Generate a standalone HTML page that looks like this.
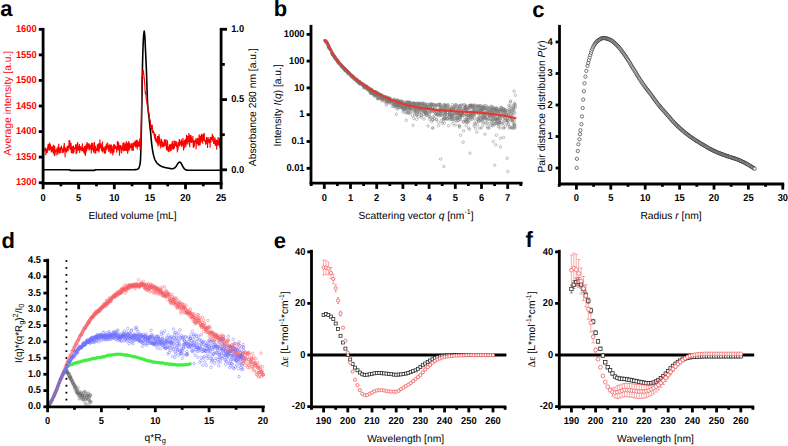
<!DOCTYPE html>
<html><head><meta charset="utf-8"><style>
html,body{margin:0;padding:0;background:#fff;}
svg{display:block;}
text{font-family:"Liberation Sans",sans-serif;text-rendering:geometricPrecision;}
</style></head><body>
<svg width="788" height="446" viewBox="0 0 788 446" font-family="Liberation Sans, sans-serif">
<rect width="788" height="446" fill="#fff"/>
<defs>
<marker id="cb" markerWidth="8" markerHeight="8" refX="0" refY="0" markerUnits="userSpaceOnUse" overflow="visible"><circle r="1.25" fill="none" stroke="#767676" stroke-width="0.45"/></marker>
<marker id="cc" markerWidth="8" markerHeight="8" refX="0" refY="0" markerUnits="userSpaceOnUse" overflow="visible"><circle r="1.65" fill="#fff" stroke="#111" stroke-width="0.55"/></marker>
<marker id="dr" markerWidth="8" markerHeight="8" refX="0" refY="0" markerUnits="userSpaceOnUse" overflow="visible"><circle r="1.3" fill="none" stroke="#f65c62" stroke-width="0.45"/></marker>
<marker id="db" markerWidth="8" markerHeight="8" refX="0" refY="0" markerUnits="userSpaceOnUse" overflow="visible"><circle r="1.3" fill="none" stroke="#6e6eff" stroke-width="0.45"/></marker>
<marker id="dg" markerWidth="8" markerHeight="8" refX="0" refY="0" markerUnits="userSpaceOnUse" overflow="visible"><circle r="1.05" fill="none" stroke="#3bec3b" stroke-width="0.45"/></marker>
<marker id="dk" markerWidth="8" markerHeight="8" refX="0" refY="0" markerUnits="userSpaceOnUse" overflow="visible"><circle r="1.25" fill="none" stroke="#6a6a6a" stroke-width="0.45"/></marker>
<marker id="er" markerWidth="8" markerHeight="8" refX="0" refY="0" markerUnits="userSpaceOnUse" overflow="visible"><circle r="1.6" fill="#fff" stroke="#f24d4d" stroke-width="0.75"/></marker>
<marker id="ek" markerWidth="8" markerHeight="8" refX="0" refY="0" markerUnits="userSpaceOnUse" overflow="visible"><rect x="-1.5" y="-1.5" width="3" height="3" fill="#fff" stroke="#222" stroke-width="0.75"/></marker>
<marker id="fr" markerWidth="8" markerHeight="8" refX="0" refY="0" markerUnits="userSpaceOnUse" overflow="visible"><circle r="1.9" fill="#fff" stroke="#f24d4d" stroke-width="0.7"/></marker>
<marker id="fk" markerWidth="8" markerHeight="8" refX="0" refY="0" markerUnits="userSpaceOnUse" overflow="visible"><rect x="-1.7" y="-1.7" width="3.4" height="3.4" fill="#fff" stroke="#222" stroke-width="0.75"/></marker>
</defs>
<text x="0.2" y="16.3" font-size="22" font-weight="bold" text-anchor="start" fill="#000" >a</text>
<text x="273.7" y="16.2" font-size="22" font-weight="bold" text-anchor="start" fill="#000" >b</text>
<text x="532.2" y="16.5" font-size="22" font-weight="bold" text-anchor="start" fill="#000" >c</text>
<text x="1.4" y="247.7" font-size="22" font-weight="bold" text-anchor="start" fill="#000" >d</text>
<text x="273.7" y="248.4" font-size="22" font-weight="bold" text-anchor="start" fill="#000" >e</text>
<text x="525.5" y="246.9" font-size="22" font-weight="bold" text-anchor="start" fill="#000" >f</text>
<polyline points="44.0,169.7 44.2,169.7 44.4,169.7 44.6,169.7 44.8,169.7 45.0,169.7 45.2,169.7 45.4,169.7 45.6,169.7 45.8,169.7 46.0,169.7 46.2,169.7 46.4,169.7 46.6,169.7 46.8,169.7 47.0,169.7 47.2,169.7 47.4,169.7 47.6,169.7 47.8,169.7 48.0,169.7 48.2,169.7 48.4,169.7 48.6,169.7 48.8,169.7 49.0,169.7 49.2,169.7 49.4,169.7 49.6,169.7 49.8,169.7 50.0,169.7 50.2,169.7 50.4,169.7 50.6,169.7 50.8,169.7 51.0,169.7 51.2,169.7 51.4,169.7 51.6,169.7 51.8,169.7 52.0,169.7 52.2,169.7 52.4,169.7 52.6,169.7 52.8,169.7 53.0,169.7 53.2,169.7 53.4,169.7 53.6,169.7 53.8,169.7 54.0,169.7 54.2,169.7 54.4,169.7 54.6,169.7 54.8,169.7 55.0,169.7 55.2,169.7 55.4,169.7 55.6,169.7 55.8,169.7 56.0,169.7 56.2,169.7 56.4,169.7 56.6,169.7 56.8,169.7 57.0,169.7 57.2,169.7 57.4,169.7 57.6,169.7 57.8,169.7 58.0,169.7 58.2,169.7 58.4,169.7 58.6,169.7 58.8,169.7 59.0,169.7 59.2,169.7 59.4,169.7 59.6,169.7 59.8,169.7 60.0,169.7 60.2,169.7 60.4,169.7 60.6,169.7 60.8,169.7 61.0,169.7 61.2,169.7 61.4,169.7 61.6,169.7 61.8,169.7 62.0,169.7 62.2,169.7 62.4,169.7 62.6,169.7 62.8,169.7 63.0,169.7 63.2,169.7 63.4,169.7 63.6,169.7 63.8,169.7 64.0,169.7 64.2,169.7 64.4,169.7 64.6,169.7 64.8,169.7 65.0,169.7 65.2,169.7 65.4,169.7 65.6,169.7 65.8,169.7 66.0,169.7 66.2,169.7 66.4,169.7 66.6,169.7 66.8,169.7 67.0,169.7 67.2,169.7 67.4,169.7 67.6,169.7 67.8,169.7 68.0,169.7 68.2,169.7 68.4,169.7 68.6,169.7 68.8,169.7 69.0,169.7 69.2,169.7 69.4,169.7 69.6,169.7 69.8,169.7 70.0,170.4 70.2,170.4 70.4,170.4 70.6,170.4 70.8,170.4 71.0,170.4 71.2,170.4 71.4,170.4 71.6,170.4 71.8,170.4 72.0,170.4 72.2,170.4 72.4,170.4 72.6,170.4 72.8,170.4 73.0,170.4 73.2,170.4 73.4,170.4 73.6,170.4 73.8,170.4 74.0,170.4 74.2,170.4 74.4,170.4 74.6,170.4 74.8,170.4 75.0,170.4 75.2,170.4 75.4,170.4 75.6,170.4 75.8,170.4 76.0,170.4 76.2,170.4 76.4,170.4 76.6,170.4 76.8,170.4 77.0,170.4 77.2,170.4 77.4,170.4 77.6,170.4 77.8,170.4 78.0,170.4 78.2,170.4 78.4,170.4 78.6,170.4 78.8,170.4 79.0,170.4 79.2,170.4 79.4,170.4 79.6,170.4 79.8,170.4 80.0,170.4 80.2,170.4 80.4,170.4 80.6,170.4 80.8,170.4 81.0,170.4 81.2,170.4 81.4,170.4 81.6,170.4 81.8,170.4 82.0,170.4 82.2,170.4 82.4,170.4 82.6,170.4 82.8,170.4 83.0,170.4 83.2,170.4 83.4,170.4 83.6,170.4 83.8,170.4 84.0,170.4 84.2,170.4 84.4,170.4 84.6,170.4 84.8,170.4 85.0,170.4 85.2,170.4 85.4,170.4 85.6,170.4 85.8,170.4 86.0,170.4 86.2,170.4 86.4,170.4 86.6,170.4 86.8,170.4 87.0,170.4 87.2,170.4 87.4,170.4 87.6,170.4 87.8,170.4 88.0,170.4 88.2,170.4 88.4,170.4 88.6,170.4 88.8,170.4 89.0,170.4 89.2,170.4 89.4,170.4 89.6,170.4 89.8,170.4 90.0,170.4 90.2,170.4 90.4,170.4 90.6,170.4 90.8,170.4 91.0,170.4 91.2,170.4 91.4,170.4 91.6,170.4 91.8,170.4 92.0,170.4 92.2,170.4 92.4,170.4 92.6,170.4 92.8,170.4 93.0,170.4 93.2,170.4 93.4,170.4 93.6,170.4 93.8,170.4 94.0,170.4 94.2,170.4 94.4,170.4 94.6,170.4 94.8,170.4 95.0,169.7 95.2,169.7 95.4,169.7 95.6,169.7 95.8,169.7 96.0,169.7 96.2,169.7 96.4,169.7 96.6,169.7 96.8,169.7 97.0,169.7 97.2,169.7 97.4,169.7 97.6,169.7 97.8,169.7 98.0,169.7 98.2,169.7 98.4,169.7 98.6,169.7 98.8,169.7 99.0,169.7 99.2,169.7 99.4,169.7 99.6,169.7 99.8,169.7 100.0,169.7 100.2,169.7 100.4,169.7 100.6,169.7 100.8,169.7 101.0,169.7 101.2,169.7 101.4,169.7 101.6,169.7 101.8,169.7 102.0,169.7 102.2,169.7 102.4,169.7 102.6,169.7 102.8,169.7 103.0,169.7 103.2,169.7 103.4,169.7 103.6,169.7 103.8,169.7 104.0,169.7 104.2,169.7 104.4,169.7 104.6,169.7 104.8,169.7 105.0,169.7 105.2,169.7 105.4,169.7 105.6,169.7 105.8,169.7 106.0,169.7 106.2,169.7 106.4,169.7 106.6,169.7 106.8,169.7 107.0,169.7 107.2,169.7 107.4,169.7 107.6,169.7 107.8,169.7 108.0,169.7 108.2,169.7 108.4,169.7 108.6,169.7 108.8,169.7 109.0,169.7 109.2,169.7 109.4,169.7 109.6,169.7 109.8,169.7 110.0,169.7 110.2,169.7 110.4,169.7 110.6,169.7 110.8,169.7 111.0,169.7 111.2,169.7 111.4,169.7 111.6,169.7 111.8,169.7 112.0,169.7 112.2,169.7 112.4,169.7 112.6,169.7 112.8,169.7 113.0,169.7 113.2,169.7 113.4,169.7 113.6,169.7 113.8,169.7 114.0,169.7 114.2,169.7 114.4,169.7 114.6,169.7 114.8,169.7 115.0,169.7 115.2,169.7 115.4,169.7 115.6,169.7 115.8,169.7 116.0,169.7 116.2,169.7 116.4,169.7 116.6,169.7 116.8,169.7 117.0,169.7 117.2,169.7 117.4,169.7 117.6,169.7 117.8,169.7 118.0,169.7 118.2,169.7 118.4,169.7 118.6,169.7 118.8,169.7 119.0,169.7 119.2,169.7 119.4,169.7 119.6,169.7 119.8,169.7 120.0,169.7 120.2,169.7 120.4,169.7 120.6,169.7 120.8,169.7 121.0,169.7 121.2,169.7 121.4,169.7 121.6,169.7 121.8,169.7 122.0,169.7 122.2,169.7 122.4,169.7 122.6,169.7 122.8,169.7 123.0,169.7 123.2,169.7 123.4,169.7 123.6,169.7 123.8,169.7 124.0,169.7 124.2,169.7 124.4,169.7 124.6,169.7 124.8,169.7 125.0,169.7 125.2,169.7 125.4,169.7 125.6,169.7 125.8,169.7 126.0,169.7 126.2,169.7 126.4,169.7 126.6,169.7 126.8,169.7 127.0,169.7 127.2,169.7 127.4,169.7 127.6,169.7 127.8,169.7 128.0,169.7 128.2,169.7 128.4,169.7 128.6,169.7 128.8,169.7 129.0,169.7 129.2,169.7 129.4,169.7 129.6,169.7 129.8,169.7 130.0,169.7 130.2,169.7 130.4,169.7 130.6,169.7 130.8,169.7 131.0,169.7 131.2,169.7 131.4,169.7 131.6,169.7 131.8,169.7 132.0,169.7 132.2,169.7 132.4,169.7 132.6,169.7 132.8,169.7 133.0,169.7 133.2,169.7 133.4,169.7 133.6,169.7 133.8,169.7 134.0,169.7 134.2,169.7 134.4,169.7 134.6,169.7 134.8,169.6 135.0,169.6 135.2,169.6 135.4,169.6 135.6,169.6 135.8,169.6 136.0,169.6 136.2,169.5 136.4,169.5 136.6,169.5 136.8,169.5 137.0,169.4 137.2,169.4 137.4,169.3 137.6,169.2 137.8,169.1 138.0,169.0 138.2,168.8 138.4,168.6 138.6,168.3 138.8,168.1 139.0,167.7 139.2,167.2 139.4,166.6 139.6,165.9 139.8,165.1 140.0,164.1 140.2,162.8 140.4,160.9 140.6,157.8 140.8,151.3 141.0,144.1 141.2,136.2 141.4,127.5 141.6,117.9 141.8,107.7 142.0,95.2 142.2,81.3 142.4,69.7 142.6,61.0 142.8,53.6 143.0,47.7 143.2,42.8 143.4,38.6 143.6,35.7 143.8,33.9 144.0,32.5 144.2,31.1 144.4,32.5 144.6,33.9 144.8,35.7 145.0,39.0 145.2,43.5 145.4,48.1 145.6,52.3 145.8,56.4 146.0,60.6 146.2,65.0 146.4,69.7 146.6,75.2 146.8,81.5 147.0,88.1 147.2,94.4 147.4,99.8 147.6,103.7 147.8,106.4 148.0,108.8 148.2,110.8 148.4,112.6 148.6,114.2 148.8,115.8 149.0,117.5 149.2,119.2 149.4,121.1 149.6,122.9 149.8,124.8 150.0,126.7 150.2,128.5 150.4,130.4 150.6,132.4 150.8,134.5 151.0,136.7 151.2,138.9 151.4,141.1 151.6,143.1 151.8,144.8 152.0,146.3 152.2,147.8 152.4,149.2 152.6,150.4 152.8,151.6 153.0,152.7 153.2,153.7 153.4,154.6 153.6,155.4 153.8,156.1 154.0,156.9 154.2,157.5 154.4,158.2 154.6,158.7 154.8,159.3 155.0,159.8 155.2,160.2 155.4,160.6 155.6,161.0 155.8,161.3 156.0,161.6 156.2,161.9 156.4,162.2 156.6,162.5 156.8,162.7 157.0,163.0 157.2,163.2 157.4,163.4 157.6,163.6 157.8,163.8 158.0,164.0 158.2,164.2 158.4,164.3 158.6,164.5 158.8,164.7 159.0,164.8 159.2,165.0 159.4,165.1 159.6,165.3 159.8,165.4 160.0,165.5 160.2,165.7 160.4,165.8 160.6,165.9 160.8,166.0 161.0,166.1 161.2,166.2 161.4,166.3 161.6,166.4 161.8,166.5 162.0,166.6 162.2,166.7 162.4,166.7 162.6,166.8 162.8,166.9 163.0,166.9 163.2,167.0 163.4,167.1 163.6,167.1 163.8,167.2 164.0,167.2 164.2,167.3 164.4,167.3 164.6,167.4 164.8,167.4 165.0,167.5 165.2,167.5 165.4,167.6 165.6,167.6 165.8,167.7 166.0,167.7 166.2,167.8 166.4,167.8 166.6,167.8 166.8,167.9 167.0,167.9 167.2,168.0 167.4,168.0 167.6,168.0 167.8,168.1 168.0,168.1 168.2,168.1 168.4,168.2 168.6,168.2 168.8,168.3 169.0,168.3 169.2,168.3 169.4,168.4 169.6,168.4 169.8,168.4 170.0,168.5 170.2,168.5 170.4,168.5 170.6,168.6 170.8,168.6 171.0,168.6 171.2,168.6 171.4,168.6 171.6,168.7 171.8,168.7 172.0,168.7 172.2,168.7 172.4,168.7 172.6,168.7 172.8,168.7 173.0,168.6 173.2,168.6 173.4,168.5 173.6,168.5 173.8,168.4 174.0,168.3 174.2,168.2 174.4,168.1 174.6,168.0 174.8,167.8 175.0,167.6 175.2,167.4 175.4,167.2 175.6,167.0 175.8,166.7 176.0,166.5 176.2,166.2 176.4,165.9 176.6,165.6 176.8,165.3 177.0,165.0 177.2,164.6 177.4,164.3 177.6,164.0 177.8,163.7 178.0,163.4 178.2,163.1 178.4,162.9 178.6,162.7 178.8,162.5 179.0,162.3 179.2,162.2 179.4,162.1 179.6,162.1 179.8,162.1 180.0,162.1 180.2,162.2 180.4,162.4 180.6,162.5 180.8,162.8 181.0,163.1 181.2,163.4 181.4,163.7 181.6,164.1 181.8,164.5 182.0,164.9 182.2,165.3 182.4,165.7 182.6,166.1 182.8,166.5 183.0,166.8 183.2,167.2 183.4,167.5 183.6,167.8 183.8,168.1 184.0,168.4 184.2,168.6 184.4,168.8 184.6,169.0 184.8,169.2 185.0,169.4 185.2,169.5 185.4,169.6 185.6,169.7 185.8,169.8 186.0,169.9 186.2,169.9 186.4,170.0 186.6,170.1 186.8,170.1 187.0,170.1 187.2,170.2 187.4,170.2 187.6,170.2 187.8,170.2 188.0,170.2 188.2,170.2 188.4,170.2 188.6,170.2 188.8,170.2 189.0,170.2 189.2,170.2 189.4,170.2 189.6,170.2 189.8,170.2 190.0,170.2 190.2,170.2 190.4,170.2 190.6,170.2 190.8,170.2 191.0,170.2 191.2,170.2 191.4,170.2 191.6,170.2 191.8,170.2 192.0,170.2 192.2,170.2 192.4,170.2 192.6,170.2 192.8,170.2 193.0,170.2 193.2,170.2 193.4,170.2 193.6,170.2 193.8,170.2 194.0,170.2 194.2,170.2 194.4,170.2 194.6,170.2 194.8,170.2 195.0,170.2 195.2,170.2 195.4,170.2 195.6,170.2 195.8,170.2 196.0,170.2 196.2,170.2 196.4,170.2 196.6,170.2 196.8,170.2 197.0,170.2 197.2,170.2 197.4,170.2 197.6,170.2 197.8,170.2 198.0,170.2 198.2,170.2 198.4,170.2 198.6,170.2 198.8,170.2 199.0,170.2 199.2,170.2 199.4,170.2 199.6,170.2 199.8,170.2 200.0,170.2 200.2,170.2 200.4,170.2 200.6,170.2 200.8,170.2 201.0,170.2 201.2,170.2 201.4,170.2 201.6,170.2 201.8,170.2 202.0,170.2 202.2,170.2 202.4,170.2 202.6,170.2 202.8,170.2 203.0,170.2 203.2,170.2 203.4,170.2 203.6,170.2 203.8,170.2 204.0,170.2 204.2,170.2 204.4,170.2 204.6,170.2 204.8,170.2 205.0,170.2 205.2,170.2 205.4,170.2 205.6,170.2 205.8,170.2 206.0,170.2 206.2,170.2 206.4,170.2 206.6,170.2 206.8,170.2 207.0,170.2 207.2,170.2 207.4,170.2 207.6,170.2 207.8,170.2 208.0,170.2 208.2,170.2 208.4,170.2 208.6,170.2 208.8,170.2 209.0,170.2 209.2,170.2 209.4,170.2 209.6,170.2 209.8,170.2 210.0,170.2 210.2,170.2 210.4,170.2 210.6,170.2 210.8,170.2 211.0,170.2 211.2,170.2 211.4,170.2 211.6,170.2 211.8,170.2 212.0,170.2 212.2,170.2 212.4,170.2 212.6,170.2 212.8,170.2 213.0,170.2 213.2,170.2 213.4,170.2 213.6,170.2 213.8,170.2 214.0,170.2 214.2,170.2 214.4,170.2 214.6,170.2 214.8,170.2 215.0,170.2 215.2,170.2 215.4,170.2 215.6,170.2 215.8,170.2 216.0,170.2 216.2,170.2 216.4,170.2 216.6,170.2 216.8,170.2 217.0,170.2 217.2,170.2 217.4,170.2 217.6,170.2 217.8,170.2 218.0,170.2 218.2,170.2 218.4,170.2 218.6,170.2 218.8,170.2 219.0,170.2 219.2,170.2 219.4,170.2 219.6,170.2 219.8,170.2 220.0,170.2 220.2,170.2 220.4,170.2 220.6,170.2 220.8,170.2 221.0,170.2 221.2,170.2 221.4,170.2 221.6,170.2 221.8,170.2" fill="none" stroke="#000" stroke-width="1.6" stroke-linejoin="round"/>
<polyline points="44.5,150.2 44.7,151.1 44.9,149.4 45.1,147.5 45.3,149.2 45.5,147.8 45.7,150.7 45.9,155.2 46.1,149.4 46.3,149.2 46.5,153.0 46.7,152.4 46.9,151.9 47.1,148.5 47.3,150.8 47.5,152.8 47.7,146.2 47.9,148.4 48.1,143.9 48.3,146.0 48.5,143.9 48.7,149.4 48.9,146.1 49.1,150.9 49.3,150.0 49.5,148.9 49.7,142.4 49.9,147.8 50.1,149.4 50.3,149.8 50.5,144.2 50.7,147.9 50.9,146.8 51.1,146.8 51.3,152.6 51.5,146.8 51.7,149.5 51.9,152.1 52.1,147.6 52.3,149.4 52.5,150.0 52.7,149.7 52.9,145.9 53.1,149.7 53.3,153.8 53.5,144.8 53.7,152.2 53.9,149.7 54.1,147.5 54.3,156.2 54.5,152.1 54.7,145.8 54.9,150.2 55.1,151.9 55.3,149.8 55.5,152.5 55.7,150.2 55.9,152.5 56.1,155.5 56.3,149.3 56.5,151.6 56.7,149.2 56.9,151.4 57.1,147.5 57.3,149.3 57.5,150.5 57.7,153.9 57.9,154.6 58.1,146.5 58.3,147.9 58.5,152.2 58.7,143.7 58.9,148.4 59.1,149.4 59.3,153.3 59.5,151.7 59.7,148.7 59.9,148.2 60.1,148.2 60.3,153.4 60.5,147.1 60.7,147.5 60.9,149.7 61.1,148.2 61.3,147.9 61.5,145.5 61.7,148.9 61.9,147.9 62.1,153.0 62.3,151.4 62.5,149.3 62.7,151.4 62.9,148.4 63.1,152.9 63.3,150.1 63.5,151.9 63.7,145.9 63.9,150.7 64.1,144.3 64.3,143.0 64.5,148.5 64.7,147.0 64.9,150.4 65.1,157.2 65.3,147.7 65.5,148.2 65.7,150.8 65.9,151.8 66.1,149.9 66.3,149.6 66.5,152.5 66.7,151.4 66.9,146.6 67.1,149.0 67.3,149.4 67.5,145.8 67.7,149.4 67.9,145.7 68.1,151.2 68.3,148.1 68.5,147.5 68.7,145.2 68.9,146.1 69.1,139.9 69.3,143.0 69.5,147.6 69.7,140.2 69.9,149.4 70.1,141.7 70.3,149.6 70.5,144.6 70.7,150.1 70.9,148.5 71.1,143.1 71.3,152.4 71.5,153.2 71.7,148.7 71.9,148.5 72.1,149.2 72.3,146.2 72.5,153.5 72.7,147.7 72.9,149.5 73.1,147.2 73.3,147.8 73.5,145.5 73.7,153.4 73.9,148.2 74.1,151.7 74.3,149.2 74.5,147.4 74.7,148.2 74.9,147.3 75.1,148.8 75.3,147.8 75.5,147.5 75.7,144.3 75.9,146.4 76.1,154.3 76.3,146.8 76.5,145.5 76.7,149.7 76.9,153.3 77.1,143.5 77.3,147.1 77.5,145.4 77.7,142.1 77.9,150.7 78.1,148.7 78.3,148.5 78.5,146.2 78.7,150.5 78.9,146.9 79.1,147.8 79.3,144.7 79.5,144.3 79.7,153.1 79.9,146.8 80.1,149.6 80.3,148.4 80.5,147.1 80.7,146.9 80.9,150.1 81.1,146.8 81.3,147.8 81.5,147.7 81.7,151.1 81.9,149.5 82.1,148.8 82.3,145.8 82.5,143.4 82.7,150.3 82.9,151.1 83.1,147.9 83.3,150.0 83.5,151.3 83.7,151.9 83.9,151.8 84.1,147.5 84.3,154.1 84.5,146.0 84.7,152.8 84.9,151.7 85.1,152.7 85.3,155.8 85.5,154.7 85.7,146.6 85.9,144.5 86.1,152.4 86.3,146.4 86.5,149.1 86.7,151.1 86.9,143.4 87.1,142.1 87.3,149.2 87.5,148.4 87.7,147.5 87.9,148.5 88.1,145.7 88.3,143.6 88.5,148.2 88.7,145.2 88.9,143.4 89.1,150.4 89.3,148.7 89.5,150.1 89.7,145.6 89.9,146.8 90.1,145.3 90.3,145.8 90.5,148.9 90.7,145.2 90.9,148.6 91.1,148.1 91.3,153.6 91.5,142.7 91.7,150.4 91.9,146.7 92.1,146.7 92.3,142.7 92.5,146.0 92.7,150.0 92.9,147.6 93.1,148.8 93.3,147.7 93.5,152.5 93.7,149.4 93.9,142.7 94.1,147.8 94.3,143.5 94.5,142.1 94.7,147.5 94.9,153.7 95.1,149.8 95.3,146.0 95.5,146.5 95.7,153.1 95.9,149.7 96.1,148.9 96.3,148.5 96.5,148.6 96.7,150.8 96.9,149.4 97.1,148.3 97.3,144.6 97.5,149.6 97.7,145.7 97.9,151.3 98.1,143.7 98.3,146.9 98.5,147.4 98.7,143.2 98.9,152.5 99.1,151.3 99.3,145.3 99.5,148.8 99.7,147.7 99.9,139.4 100.1,147.8 100.3,146.5 100.5,146.9 100.7,143.4 100.9,146.1 101.1,145.9 101.3,150.1 101.5,147.3 101.7,146.2 101.9,151.5 102.1,145.3 102.3,145.6 102.5,141.4 102.7,152.6 102.9,150.8 103.1,151.0 103.3,150.7 103.5,148.9 103.7,149.2 103.9,147.9 104.1,148.2 104.3,149.1 104.5,153.8 104.7,150.8 104.9,148.4 105.1,146.3 105.3,145.9 105.5,153.4 105.7,149.9 105.9,148.2 106.1,146.6 106.3,143.6 106.5,147.1 106.7,150.0 106.9,145.9 107.1,147.2 107.3,147.1 107.5,148.0 107.7,142.4 107.9,146.8 108.1,144.7 108.3,150.6 108.5,145.1 108.7,148.9 108.9,152.0 109.1,146.5 109.3,145.7 109.5,147.9 109.7,147.3 109.9,144.0 110.1,148.4 110.3,153.7 110.5,147.0 110.7,147.7 110.9,145.6 111.1,150.4 111.3,144.7 111.5,145.1 111.7,153.1 111.9,145.9 112.1,152.2 112.3,153.6 112.5,149.5 112.7,150.8 112.9,155.4 113.1,148.4 113.3,147.0 113.5,144.6 113.7,148.8 113.9,152.5 114.1,150.5 114.3,144.7 114.5,144.8 114.7,145.8 114.9,148.8 115.1,146.8 115.3,148.0 115.5,148.9 115.7,146.6 115.9,146.9 116.1,147.7 116.3,146.7 116.5,148.1 116.7,152.6 116.9,149.0 117.1,147.2 117.3,141.7 117.5,148.8 117.7,141.1 117.9,142.6 118.1,149.9 118.3,150.4 118.5,147.0 118.7,142.4 118.9,146.9 119.1,145.9 119.3,150.1 119.5,155.7 119.7,149.3 119.9,146.2 120.1,145.1 120.3,148.4 120.5,148.0 120.7,145.1 120.9,149.4 121.1,145.5 121.3,152.3 121.5,152.7 121.7,152.4 121.9,147.1 122.1,150.0 122.3,147.4 122.5,146.7 122.7,146.4 122.9,143.5 123.1,143.3 123.3,151.0 123.5,147.9 123.7,149.1 123.9,151.2 124.1,142.4 124.3,145.2 124.5,147.8 124.7,148.4 124.9,146.6 125.1,151.0 125.3,148.8 125.5,143.6 125.7,144.7 125.9,150.2 126.1,148.9 126.3,141.1 126.5,150.9 126.7,148.8 126.9,151.1 127.1,145.6 127.3,145.9 127.5,142.8 127.7,153.7 127.9,145.3 128.1,151.7 128.3,144.5 128.5,147.4 128.7,141.1 128.9,145.3 129.1,150.1 129.3,142.8 129.5,150.5 129.7,147.5 129.9,143.4 130.1,145.7 130.3,145.9 130.5,148.1 130.7,146.8 130.9,145.6 131.1,147.2 131.3,144.5 131.5,143.6 131.7,147.9 131.9,150.8 132.1,142.7 132.3,147.7 132.5,145.4 132.7,144.5 132.9,150.1 133.1,144.9 133.3,150.9 133.5,143.0 133.7,146.5 133.9,144.3 134.1,142.0 134.3,146.2 134.5,143.9 134.7,146.3 134.9,144.5 135.1,140.7 135.3,143.6 135.5,144.5 135.7,147.6 135.9,141.5 136.1,144.9 136.3,139.7 136.5,147.3 136.7,141.6 136.9,139.7 137.1,145.7 137.3,149.4 137.5,140.6 137.7,142.0 137.9,142.7 138.1,141.6 138.3,146.7 138.5,142.8 138.7,142.6 138.9,146.8 139.1,142.1 139.3,145.8 139.5,140.9 139.7,140.3 139.9,138.3 140.1,150.2 140.3,142.6 140.5,144.1 140.7,142.5 140.9,139.8 141.1,128.9 141.3,118.8 141.5,101.4 141.7,88.0 141.9,81.8 142.1,76.4 142.3,75.9 142.5,74.7 142.7,71.2 142.9,69.8 143.1,71.0 143.3,74.8 143.5,70.2 143.7,75.6 143.9,74.4 144.1,78.7 144.3,77.9 144.5,81.7 144.7,82.9 144.9,86.3 145.1,91.8 145.3,93.1 145.5,92.8 145.7,93.9 145.9,93.9 146.1,97.6 146.3,99.4 146.5,100.4 146.7,101.4 146.9,101.1 147.1,103.7 147.3,104.7 147.5,107.6 147.7,109.7 147.9,108.0 148.1,108.3 148.3,110.6 148.5,111.0 148.7,111.8 148.9,113.9 149.1,114.0 149.3,117.9 149.5,118.3 149.7,120.0 149.9,120.6 150.1,119.8 150.3,120.5 150.5,124.3 150.7,124.5 150.9,127.8 151.1,128.2 151.3,124.7 151.5,130.0 151.7,126.5 151.9,129.5 152.1,130.7 152.3,124.8 152.5,132.2 152.7,133.2 152.9,132.3 153.1,131.8 153.3,132.0 153.5,130.6 153.7,133.7 153.9,133.2 154.1,135.7 154.3,132.4 154.5,137.4 154.7,137.9 154.9,137.5 155.1,136.2 155.3,140.5 155.5,134.0 155.7,140.7 155.9,140.6 156.1,141.1 156.3,141.9 156.5,138.2 156.7,139.1 156.9,142.1 157.1,141.7 157.3,141.1 157.5,136.1 157.7,143.1 157.9,145.2 158.1,145.5 158.3,142.1 158.5,135.9 158.7,144.6 158.9,140.9 159.1,134.2 159.3,143.0 159.5,137.2 159.7,138.0 159.9,140.0 160.1,146.1 160.3,140.8 160.5,143.1 160.7,147.2 160.9,146.8 161.1,141.5 161.3,141.5 161.5,138.9 161.7,141.1 161.9,145.2 162.1,145.0 162.3,144.2 162.5,147.2 162.7,141.5 162.9,143.7 163.1,146.3 163.3,145.7 163.5,147.3 163.7,145.3 163.9,143.3 164.1,145.1 164.3,141.3 164.5,139.2 164.7,146.1 164.9,144.2 165.1,145.8 165.3,139.4 165.5,144.1 165.7,144.3 165.9,143.4 166.1,139.4 166.3,146.1 166.5,150.1 166.7,148.8 166.9,146.0 167.1,148.1 167.3,150.4 167.5,140.2 167.7,146.8 167.9,148.7 168.1,148.8 168.3,152.1 168.5,150.2 168.7,146.6 168.9,147.4 169.1,148.9 169.3,144.4 169.5,145.8 169.7,148.6 169.9,151.8 170.1,145.3 170.3,145.1 170.5,146.3 170.7,150.8 170.9,146.1 171.1,151.1 171.3,143.4 171.5,145.7 171.7,146.3 171.9,148.7 172.1,149.3 172.3,141.2 172.5,143.1 172.7,147.0 172.9,143.7 173.1,140.7 173.3,149.7 173.5,147.5 173.7,147.0 173.9,144.0 174.1,148.7 174.3,144.5 174.5,148.2 174.7,141.4 174.9,141.6 175.1,144.8 175.3,141.9 175.5,146.0 175.7,144.5 175.9,141.0 176.1,144.3 176.3,142.9 176.5,147.2 176.7,141.8 176.9,142.6 177.1,148.0 177.3,151.5 177.5,151.2 177.7,145.0 177.9,145.7 178.1,149.8 178.3,144.5 178.5,142.0 178.7,145.4 178.9,146.0 179.1,142.0 179.3,139.1 179.5,139.6 179.7,146.3 179.9,141.7 180.1,142.9 180.3,143.4 180.5,144.9 180.7,141.6 180.9,144.3 181.1,140.3 181.3,141.6 181.5,139.4 181.7,147.0 181.9,143.5 182.1,141.0 182.3,142.2 182.5,142.7 182.7,145.5 182.9,138.1 183.1,140.2 183.3,142.1 183.5,150.6 183.7,146.1 183.9,142.5 184.1,144.4 184.3,148.4 184.5,141.1 184.7,140.1 184.9,144.7 185.1,142.7 185.3,142.7 185.5,138.8 185.7,147.1 185.9,146.2 186.1,142.4 186.3,143.5 186.5,134.8 186.7,143.3 186.9,140.8 187.1,143.4 187.3,143.7 187.5,140.3 187.7,135.7 187.9,142.2 188.1,138.3 188.3,139.7 188.5,138.9 188.7,139.3 188.9,133.1 189.1,144.6 189.3,141.1 189.5,143.9 189.7,147.2 189.9,140.9 190.1,134.7 190.3,138.1 190.5,137.0 190.7,139.6 190.9,141.9 191.1,135.2 191.3,142.9 191.5,137.1 191.7,143.0 191.9,141.7 192.1,140.7 192.3,141.4 192.5,139.8 192.7,139.7 192.9,136.0 193.1,141.4 193.3,147.2 193.5,147.8 193.7,145.8 193.9,143.7 194.1,139.9 194.3,146.8 194.5,142.0 194.7,142.2 194.9,141.6 195.1,142.7 195.3,141.1 195.5,142.4 195.7,138.6 195.9,140.5 196.1,149.3 196.3,141.8 196.5,141.2 196.7,143.4 196.9,143.9 197.1,137.7 197.3,140.2 197.5,143.3 197.7,141.2 197.9,140.6 198.1,145.4 198.3,138.2 198.5,140.4 198.7,138.5 198.9,145.7 199.1,134.3 199.3,138.8 199.5,139.5 199.7,143.3 199.9,143.4 200.1,145.4 200.3,135.8 200.5,143.2 200.7,139.7 200.9,138.4 201.1,142.2 201.3,137.7 201.5,133.7 201.7,139.2 201.9,135.0 202.1,137.8 202.3,140.6 202.5,140.0 202.7,143.8 202.9,137.7 203.1,133.8 203.3,136.8 203.5,136.7 203.7,135.6 203.9,140.8 204.1,137.2 204.3,133.0 204.5,141.6 204.7,139.2 204.9,140.9 205.1,140.1 205.3,141.9 205.5,140.5 205.7,144.8 205.9,142.7 206.1,142.6 206.3,142.8 206.5,137.0 206.7,141.3 206.9,141.5 207.1,143.3 207.3,138.2 207.5,148.0 207.7,142.7 207.9,138.8 208.1,137.1 208.3,141.7 208.5,142.2 208.7,140.2 208.9,142.0 209.1,139.6 209.3,143.3 209.5,138.7 209.7,141.0 209.9,143.3 210.1,147.8 210.3,136.9 210.5,139.1 210.7,137.5 210.9,142.7 211.1,136.7 211.3,138.9 211.5,140.0 211.7,136.8 211.9,137.9 212.1,139.3 212.3,133.8 212.5,136.0 212.7,139.0 212.9,141.6 213.1,140.8 213.3,135.7 213.5,139.3 213.7,144.0 213.9,143.3 214.1,141.6 214.3,139.0 214.5,143.9 214.7,140.1 214.9,137.4 215.1,138.5 215.3,146.0 215.5,142.0 215.7,145.8 215.9,140.3 216.1,144.3 216.3,139.7 216.5,141.9 216.7,149.8 216.9,144.2 217.1,140.0 217.3,141.4 217.5,142.8 217.7,145.5 217.9,140.6 218.1,137.0 218.3,141.1 218.5,142.2 218.7,141.7 218.9,145.7 219.1,142.6 219.3,144.3 219.5,137.9 219.7,143.7 219.9,148.0 220.1,143.9 220.3,142.0 220.5,142.1 220.7,147.4 220.9,138.2 221.1,141.0 221.3,142.8" fill="none" stroke="#ff0000" stroke-width="1.1"/>
<line x1="43.1" y1="27.9" x2="43.1" y2="184.6" stroke="#000" stroke-width="2.8" />
<line x1="221.1" y1="27.9" x2="221.1" y2="184.6" stroke="#000" stroke-width="2.8" />
<line x1="41.8" y1="183.3" x2="222.4" y2="183.3" stroke="#000" stroke-width="2.8" />
<line x1="38.8" y1="182.7" x2="43.1" y2="182.7" stroke="#000" stroke-width="2.8" />
<text transform="translate(36.6 185.4) scale(0.93 1)" font-size="10" font-weight="bold" text-anchor="end" fill="#ff0000" >1300</text>
<line x1="38.8" y1="157.1" x2="43.1" y2="157.1" stroke="#000" stroke-width="2.8" />
<text transform="translate(36.6 159.8) scale(0.93 1)" font-size="10" font-weight="bold" text-anchor="end" fill="#ff0000" >1350</text>
<line x1="38.8" y1="131.6" x2="43.1" y2="131.6" stroke="#000" stroke-width="2.8" />
<text transform="translate(36.6 134.3) scale(0.93 1)" font-size="10" font-weight="bold" text-anchor="end" fill="#ff0000" >1400</text>
<line x1="38.8" y1="106" x2="43.1" y2="106" stroke="#000" stroke-width="2.8" />
<text transform="translate(36.6 108.7) scale(0.93 1)" font-size="10" font-weight="bold" text-anchor="end" fill="#ff0000" >1450</text>
<line x1="38.8" y1="80.4" x2="43.1" y2="80.4" stroke="#000" stroke-width="2.8" />
<text transform="translate(36.6 83.1) scale(0.93 1)" font-size="10" font-weight="bold" text-anchor="end" fill="#ff0000" >1500</text>
<line x1="38.8" y1="54.9" x2="43.1" y2="54.9" stroke="#000" stroke-width="2.8" />
<text transform="translate(36.6 57.6) scale(0.93 1)" font-size="10" font-weight="bold" text-anchor="end" fill="#ff0000" >1550</text>
<line x1="38.8" y1="29.3" x2="43.1" y2="29.3" stroke="#000" stroke-width="2.8" />
<text transform="translate(36.6 32) scale(0.93 1)" font-size="10" font-weight="bold" text-anchor="end" fill="#ff0000" >1600</text>
<line x1="221.1" y1="169.8" x2="227" y2="169.8" stroke="#000" stroke-width="2.8" />
<text transform="translate(231.2 172.5) scale(0.93 1)" font-size="10" font-weight="bold" text-anchor="start" fill="#000" >0.0</text>
<line x1="221.1" y1="99.6" x2="227" y2="99.6" stroke="#000" stroke-width="2.8" />
<text transform="translate(231.2 102.3) scale(0.93 1)" font-size="10" font-weight="bold" text-anchor="start" fill="#000" >0.5</text>
<line x1="221.1" y1="29.3" x2="227" y2="29.3" stroke="#000" stroke-width="2.8" />
<text transform="translate(231.2 32) scale(0.93 1)" font-size="10" font-weight="bold" text-anchor="start" fill="#000" >1.0</text>
<line x1="221.1" y1="134.7" x2="224.8" y2="134.7" stroke="#000" stroke-width="2.8" />
<line x1="221.1" y1="64.4" x2="224.8" y2="64.4" stroke="#000" stroke-width="2.8" />
<line x1="43.1" y1="183.3" x2="43.1" y2="189.2" stroke="#000" stroke-width="2.8" />
<text transform="translate(43.1 201) scale(0.93 1)" font-size="10" font-weight="bold" text-anchor="middle" fill="#000" >0</text>
<line x1="78.7" y1="183.3" x2="78.7" y2="189.2" stroke="#000" stroke-width="2.8" />
<text transform="translate(78.7 201) scale(0.93 1)" font-size="10" font-weight="bold" text-anchor="middle" fill="#000" >5</text>
<line x1="114.3" y1="183.3" x2="114.3" y2="189.2" stroke="#000" stroke-width="2.8" />
<text transform="translate(114.3 201) scale(0.93 1)" font-size="10" font-weight="bold" text-anchor="middle" fill="#000" >10</text>
<line x1="149.9" y1="183.3" x2="149.9" y2="189.2" stroke="#000" stroke-width="2.8" />
<text transform="translate(149.9 201) scale(0.93 1)" font-size="10" font-weight="bold" text-anchor="middle" fill="#000" >15</text>
<line x1="185.5" y1="183.3" x2="185.5" y2="189.2" stroke="#000" stroke-width="2.8" />
<text transform="translate(185.5 201) scale(0.93 1)" font-size="10" font-weight="bold" text-anchor="middle" fill="#000" >20</text>
<line x1="221.1" y1="183.3" x2="221.1" y2="189.2" stroke="#000" stroke-width="2.8" />
<text transform="translate(221.1 201) scale(0.93 1)" font-size="10" font-weight="bold" text-anchor="middle" fill="#000" >25</text>
<line x1="60.9" y1="183.3" x2="60.9" y2="186.3" stroke="#000" stroke-width="2.8" />
<line x1="96.5" y1="183.3" x2="96.5" y2="186.3" stroke="#000" stroke-width="2.8" />
<line x1="132.1" y1="183.3" x2="132.1" y2="186.3" stroke="#000" stroke-width="2.8" />
<line x1="167.7" y1="183.3" x2="167.7" y2="186.3" stroke="#000" stroke-width="2.8" />
<line x1="203.3" y1="183.3" x2="203.3" y2="186.3" stroke="#000" stroke-width="2.8" />
<text x="132.5" y="218.5" font-size="10.3" font-weight="normal" text-anchor="middle" fill="#000" >Eluted volume [mL]</text>
<text transform="translate(11.2 103.1) rotate(-90)" font-size="10.3" text-anchor="middle" fill="#ff0000">Average intensity [a.u.]</text>
<text transform="translate(255.8 107.2) rotate(-90)" font-size="10.3" text-anchor="middle" fill="#000">Absorbance 280 nm [a.u.]</text>
<polyline points="325.5,41.6 325.5,41.2 325.5,41.5 325.7,41.7 325.7,41.3 325.8,40.7 326.2,41.2 326.2,42.3 326.4,41.8 326.6,42.6 326.7,43.1 326.9,42.3 327.0,43.1 327.1,43.0 327.1,42.8 327.7,43.8 327.7,43.9 328.1,45.2 328.2,45.3 328.2,45.5 328.3,46.3 328.5,46.5 328.6,45.9 328.7,46.3 328.7,46.3 328.8,46.0 328.8,47.4 328.9,46.6 329.0,47.5 329.0,47.3 329.2,48.2 329.3,48.7 329.4,48.0 329.5,48.4 329.6,48.4 329.8,48.5 329.9,48.9 330.3,49.7 330.8,49.9 331.0,50.8 331.3,51.3 331.7,52.1 331.8,52.8 332.0,53.2 332.1,54.4 332.2,53.6 332.4,53.5 332.5,53.1 332.6,54.5 332.7,54.6 332.8,54.3 333.0,54.7 333.0,54.2 333.1,54.7 333.2,55.1 333.3,55.2 333.4,55.3 333.5,55.8 333.6,55.6 333.8,55.8 333.8,56.3 333.9,56.5 333.9,55.6 334.4,56.5 334.5,56.3 334.5,56.1 334.6,57.0 334.6,57.6 334.8,56.9 334.9,57.9 334.9,57.5 334.9,58.5 335.3,57.8 335.5,58.7 335.6,58.3 335.6,58.0 335.9,58.7 336.0,59.0 336.1,59.7 336.1,59.5 336.4,60.0 336.6,59.2 337.0,60.1 337.2,60.4 337.2,60.0 337.3,60.6 337.5,61.3 337.5,61.7 337.7,60.8 337.7,61.8 337.7,61.0 337.7,60.6 337.8,60.7 337.8,62.1 338.0,62.0 338.3,62.0 338.4,62.5 338.5,62.2 338.6,63.2 338.6,63.2 338.8,62.2 339.1,64.0 339.2,62.9 339.4,63.2 339.5,63.6 339.6,63.7 340.1,63.5 340.6,64.5 340.6,64.4 340.8,65.1 341.0,64.6 341.1,64.8 341.1,66.2 341.4,66.0 341.4,65.9 341.6,65.6 341.7,65.5 341.7,66.6 341.8,66.4 341.9,66.8 342.0,65.7 342.0,66.6 342.1,66.3 342.3,67.0 342.3,66.2 342.7,67.5 342.9,67.1 343.2,67.4 343.3,67.6 343.3,67.4 343.5,67.4 343.6,68.2 343.8,68.5 343.8,69.0 343.9,68.1 344.0,67.8 344.1,67.8 344.2,68.9 344.5,69.2 344.6,70.1 344.7,68.4 344.7,69.3 344.9,68.7 345.0,68.9 345.2,70.3 345.3,70.1 345.3,69.5 345.5,69.5 345.6,71.2 345.7,69.5 345.9,70.0 346.1,70.0 346.2,70.2 346.2,70.4 346.3,70.9 346.3,71.3 346.3,70.1 346.3,70.1 346.6,71.4 346.9,70.8 347.0,70.9 347.2,70.9 347.4,72.4 347.6,71.4 347.9,71.6 348.0,71.7 348.1,73.4 348.2,72.0 348.2,73.8 348.3,72.7 348.3,73.4 348.4,72.2 348.7,72.7 348.9,72.5 349.0,73.3 349.1,73.7 349.4,73.0 349.9,73.8 350.5,75.5 350.7,75.5 351.0,75.0 351.1,75.5 351.2,75.9 351.3,74.7 351.4,75.9 351.5,77.0 352.1,75.9 352.2,77.2 352.4,76.1 352.7,76.3 352.9,77.5 353.0,76.4 353.4,76.7 353.7,79.0 353.8,77.7 353.9,77.8 354.0,77.2 354.2,78.7 354.3,78.3 354.6,77.9 355.1,79.6 355.6,79.4 355.7,79.4 355.7,79.6 355.9,79.5 355.9,79.8 356.3,80.5 356.5,79.2 356.5,79.6 356.7,81.5 356.8,79.7 356.8,80.5 357.4,80.4 357.5,81.1 357.5,81.2 357.6,80.5 358.0,82.1 358.1,80.8 358.3,82.6 358.4,81.7 358.7,82.9 358.7,81.4 358.8,82.7 358.8,81.4 359.1,82.8 359.2,81.6 359.3,83.1 359.6,82.6 359.7,83.6 359.8,81.6 359.9,83.7 360.1,82.4 360.1,83.0 360.3,82.1 360.3,83.8 360.5,84.0 361.2,83.9 361.4,83.5 361.6,84.0 361.7,83.9 361.7,84.0 361.8,83.7 362.1,83.6 362.2,84.1 362.2,84.5 362.4,83.8 362.6,85.4 362.8,84.4 362.8,84.6 363.1,84.8 363.3,85.4 363.3,84.3 363.4,85.3 363.4,84.8 363.6,88.2 363.9,84.6 363.9,87.2 363.9,86.5 364.3,87.1 364.4,86.7 364.6,85.3 364.8,86.1 364.9,86.8 365.1,85.9 365.1,85.5 365.4,85.9 365.5,86.7 365.8,87.8 365.9,86.2 365.9,87.4 366.2,87.6 366.3,86.3 366.4,86.4 366.4,87.8 366.4,88.4 366.5,87.1 366.5,87.3 366.9,88.1 366.9,88.3 367.0,87.0 367.2,87.0 367.2,88.2 367.2,87.6 367.4,89.4 367.5,87.9 367.5,87.5 367.6,87.2 367.7,89.1 367.9,89.7 367.9,88.2 367.9,87.5 368.0,89.1 368.1,87.7 368.5,88.4 368.5,90.1 368.6,88.2 368.7,87.9 368.9,88.8 369.1,88.7 369.2,89.2 369.2,90.0 369.6,89.2 369.6,88.6 369.6,88.8 369.8,90.9 370.0,90.8 370.1,89.5 370.2,92.5 370.2,90.8 370.5,91.3 370.5,92.6 370.6,93.5 370.9,90.7 371.0,89.3 371.0,90.4 371.1,91.7 371.2,93.0 371.3,89.5 371.4,90.5 371.5,89.8 371.5,92.0 371.5,93.0 371.7,93.4 371.8,90.1 372.0,91.5 372.0,90.4 372.1,92.7 372.2,91.8 372.2,90.5 372.3,90.3 372.4,91.2 372.7,91.5 372.9,91.7 373.1,92.4 373.3,92.8 373.4,93.2 373.5,94.0 373.7,92.0 373.9,95.0 374.1,91.8 374.1,95.2 374.3,96.0 374.3,91.7 374.6,94.6 374.6,93.2 374.6,92.2 374.6,94.8 374.7,93.1 374.7,92.0 375.0,92.2 375.1,92.0 375.1,92.2 375.1,92.2 375.2,92.0 375.5,94.6 375.7,94.3 375.8,92.5 375.9,92.4 375.9,92.9 376.0,93.9 376.0,92.2 376.1,92.4 376.2,94.7 376.3,94.6 376.3,96.8 376.3,92.5 376.4,92.9 376.5,92.5 376.5,95.2 376.5,93.7 376.5,94.7 376.7,94.8 376.9,95.9 377.0,93.1 377.2,93.3 377.2,92.9 377.4,98.8 377.5,95.7 377.5,94.5 377.6,93.1 377.7,93.3 377.9,98.3 378.1,98.5 378.1,94.5 378.4,98.0 378.4,95.2 379.1,98.3 379.3,94.1 379.3,94.6 379.3,93.9 379.6,97.8 379.8,95.6 380.1,94.7 380.1,94.4 380.5,96.8 380.5,94.9 380.6,98.4 380.7,95.8 380.9,95.6 381.1,98.4 381.1,94.8 381.4,96.0 381.4,95.7 381.4,96.9 381.5,98.6 381.6,100.9 381.6,95.6 381.7,95.2 381.7,96.4 382.0,95.7 382.3,97.6 382.5,99.4 382.6,99.6 382.8,98.7 383.0,95.8 383.0,96.3 383.3,98.5 383.5,97.8 383.5,98.5 383.7,98.2 384.1,99.5 384.1,97.7 384.6,96.7 384.7,97.3 384.8,101.9 384.8,96.9 385.0,96.6 385.1,100.1 385.6,98.1 385.7,96.8 385.8,98.3 386.2,101.8 386.3,98.1 386.3,105.1 386.5,101.0 386.7,97.7 386.8,101.0 386.9,103.1 387.3,97.2 387.6,97.9 387.7,99.8 387.9,101.4 388.0,100.6 388.1,101.4 388.1,99.1 388.2,101.8 388.2,97.7 388.4,99.2 388.5,98.8 388.7,98.5 388.7,99.5 389.0,98.8 389.1,99.0 389.2,103.1 389.2,101.4 389.4,98.9 389.4,99.6 389.5,98.2 389.7,102.3 389.8,100.2 390.0,98.2 390.2,99.3 390.4,100.2 390.6,102.0 390.9,99.9 391.0,100.9 391.0,99.8 391.2,102.0 391.5,103.7 392.2,106.4 392.2,100.7 392.6,101.3 392.7,102.8 392.8,100.5 393.0,100.9 393.1,104.3 393.7,99.3 393.7,104.9 393.8,104.4 394.0,106.6 394.2,99.7 394.5,103.2 394.6,99.8 394.6,102.3 394.8,104.6 395.0,104.0 395.0,106.0 395.1,105.8 395.3,102.0 395.4,104.3 395.4,102.2 395.6,107.0 395.7,100.6 395.9,100.1 396.2,102.4 396.2,103.5 396.4,114.2 396.5,102.6 396.6,101.6 396.7,104.8 396.8,102.5 397.1,105.4 397.1,109.1 397.3,102.1 397.4,105.8 397.5,103.4 397.5,100.2 397.6,105.6 397.6,100.3 397.7,105.5 397.9,100.6 398.0,102.0 398.1,107.3 398.1,105.8 398.3,108.1 398.3,104.6 398.4,104.9 398.5,102.1 398.6,100.8 398.6,101.9 398.6,103.0 399.0,101.9 399.0,102.8 399.1,105.6 399.3,103.6 399.4,104.6 399.4,107.4 399.6,102.4 399.7,105.6 400.1,101.1 400.4,101.5 400.6,103.0 400.6,106.3 400.7,107.4 400.7,102.1 400.7,103.1 400.9,104.7 401.3,105.4 401.3,105.0 401.6,101.3 401.7,102.6 401.7,107.3 401.9,106.1 401.9,102.1 402.2,103.8 402.2,108.2 402.3,101.3 402.4,107.6 402.6,104.9 402.6,106.6 403.0,108.1 403.1,112.1 403.2,109.4 403.3,102.2 403.4,103.3 403.5,105.9 403.7,109.6 404.0,108.4 404.2,109.5 404.5,106.5 404.9,106.1 405.1,111.5 405.2,108.9 405.3,103.0 405.4,105.0 405.6,106.8 405.6,105.3 405.8,108.5 405.8,102.2 405.9,112.9 405.9,105.5 405.9,107.9 405.9,105.1 406.4,109.8 406.4,106.7 406.5,102.1 406.5,106.3 406.9,103.2 407.0,104.7 407.0,109.3 407.2,107.6 407.3,102.1 407.6,113.0 407.8,102.6 407.9,102.9 408.0,110.7 408.1,105.0 408.5,113.0 408.6,102.2 408.7,112.4 408.7,107.0 408.8,105.8 408.9,104.6 409.1,108.1 409.2,102.2 409.2,107.0 409.5,106.5 409.5,105.0 409.7,102.3 409.7,104.0 409.7,108.9 409.7,107.8 409.9,113.2 409.9,107.4 410.0,105.9 410.1,109.8 410.3,108.3 410.3,109.1 410.4,103.3 410.4,103.7 410.5,106.2 410.8,102.6 411.0,103.6 411.1,112.1 412.0,108.1 412.1,109.7 412.6,104.0 412.6,115.8 412.9,109.0 413.1,106.4 413.2,103.6 413.4,103.0 413.4,108.4 413.5,106.1 413.7,102.9 413.7,106.5 413.7,118.4 414.0,103.2 414.1,104.3 414.1,105.4 414.4,109.2 414.4,104.1 414.6,106.6 414.6,112.4 414.7,103.5 414.7,114.8 414.9,111.0 415.0,111.7 415.4,108.9 415.4,105.6 415.8,107.1 415.9,105.3 415.9,108.8 416.2,110.7 416.4,111.8 416.4,103.5 416.4,104.2 416.5,108.0 416.5,119.3 416.5,109.0 416.7,114.3 416.9,114.4 417.0,115.3 417.0,103.4 417.4,111.7 417.5,105.1 417.6,103.1 418.1,109.1 418.3,111.0 418.3,103.7 418.4,104.5 418.4,110.3 418.6,116.7 418.7,104.0 418.7,103.5 418.8,106.0 418.9,105.9 418.9,108.4 419.2,113.0 419.2,109.0 419.3,105.5 419.6,108.7 419.7,113.0 419.8,103.2 419.9,104.5 420.0,108.4 420.1,108.9 420.4,108.9 420.5,104.2 420.7,108.5 420.7,103.8 420.9,106.2 421.1,112.4 421.1,117.2 421.4,109.4 421.6,115.8 421.6,115.3 421.8,103.9 421.8,108.0 421.9,109.8 422.0,107.8 422.1,110.7 422.2,106.2 422.5,103.4 422.8,103.2 422.9,107.6 423.1,104.0 423.2,109.6 423.3,104.0 423.5,114.2 423.8,112.1 423.9,111.2 423.9,105.8 424.0,119.0 424.0,110.2 424.2,110.2 424.4,111.5 424.4,105.7 424.4,105.6 424.9,104.5 425.1,113.3 425.1,103.5 425.4,104.9 425.4,112.4 425.6,111.9 425.7,113.4 425.9,115.6 426.1,106.7 426.1,107.4 426.2,112.5 426.3,108.5 426.3,105.6 426.4,114.5 426.4,109.1 426.6,107.1 426.6,112.2 426.6,109.6 426.7,114.8 427.3,111.1 427.3,104.8 427.3,108.1 427.6,106.4 427.6,107.6 427.6,113.6 427.9,104.2 428.3,112.3 428.7,108.2 428.7,108.2 429.1,116.8 429.2,116.3 429.3,114.6 429.5,104.4 429.8,119.3 429.9,105.1 429.9,111.9 430.1,106.5 430.3,110.6 430.4,106.0 430.4,108.3 430.6,108.4 430.6,112.2 430.8,104.1 431.0,117.9 431.2,104.4 431.5,109.1 431.6,110.2 431.6,105.1 431.7,103.8 431.7,121.7 431.7,105.1 432.1,107.0 432.2,111.7 432.4,107.4 432.4,128.0 432.5,119.9 432.9,119.7 433.0,117.0 433.2,104.2 433.3,109.6 433.4,104.7 433.7,111.0 433.7,111.2 434.0,109.0 434.1,118.4 434.3,109.2 434.5,107.5 434.6,105.0 434.8,115.3 434.8,112.0 435.2,111.0 435.3,105.5 435.6,114.0 435.9,104.9 435.9,111.2 436.1,119.8 436.2,105.4 436.4,112.1 436.6,119.3 436.6,106.3 436.8,114.1 436.9,115.0 437.3,114.0 438.1,114.4 438.3,104.7 438.3,114.4 438.4,110.8 438.4,125.7 438.5,122.4 438.5,110.0 438.6,104.5 438.7,115.8 438.7,112.7 438.7,105.1 439.1,104.2 439.3,110.0 439.6,111.1 439.8,110.6 439.9,105.9 440.0,113.6 440.2,115.4 440.4,110.4 440.4,107.5 440.5,104.7 440.5,113.0 440.6,111.3 440.7,107.1 440.7,109.0 440.7,104.4 440.8,111.7 441.1,106.3 441.2,111.2 441.2,115.4 441.4,120.4 441.5,113.6 441.6,115.0 442.0,108.3 442.0,108.2 442.1,123.3 442.4,109.0 442.6,110.4 443.1,121.4 443.4,110.8 443.5,106.6 443.6,107.9 443.7,118.1 443.7,113.8 443.7,118.4 443.8,119.1 444.2,112.2 444.4,104.7 444.4,123.2 444.4,104.8 444.4,118.4 444.7,115.1 444.7,115.8 444.8,107.2 444.9,114.5 445.0,105.7 445.0,118.7 445.1,105.2 445.2,110.2 445.2,112.2 445.2,112.5 445.3,105.7 445.3,114.6 445.4,118.9 445.5,112.9 445.8,108.2 445.8,111.6 445.9,110.1 445.9,109.2 446.0,111.0 446.2,117.3 446.3,110.8 446.6,108.1 446.9,105.7 447.0,119.3 447.2,118.4 447.3,112.3 447.3,118.2 447.5,114.9 447.5,109.5 447.7,104.5 448.0,105.3 448.1,106.8 448.6,125.7 449.0,114.0 449.1,114.6 449.2,109.1 449.2,117.7 449.2,111.6 449.3,113.8 449.3,116.0 449.6,113.8 449.6,107.0 449.7,119.8 449.8,117.6 450.0,109.8 450.1,110.2 450.2,114.3 450.3,109.8 450.6,110.0 450.6,114.0 450.9,108.7 450.9,119.1 451.1,111.8 451.2,116.6 451.4,117.7 451.6,117.5 451.6,115.4 451.7,116.8 451.9,107.7 452.0,108.9 452.0,115.1 452.2,115.3 452.3,119.4 452.3,119.6 452.4,104.5 452.5,112.1 452.8,113.9 452.9,123.7 453.1,110.4 453.2,109.4 453.2,117.8 453.3,106.9 453.3,115.7 453.6,108.4 453.6,119.9 453.7,113.9 454.0,109.2 454.2,113.6 454.3,106.7 454.4,108.1 454.6,105.4 454.7,112.3 454.7,116.5 455.0,108.6 455.1,120.5 455.2,125.1 455.7,118.0 455.9,113.8 455.9,105.2 456.0,104.6 456.4,113.1 456.4,117.7 456.8,121.1 456.8,112.5 456.8,114.0 457.0,118.1 457.2,117.4 457.3,110.7 457.3,106.0 457.3,106.8 457.5,111.9 457.6,113.6 457.6,110.0 457.7,120.4 457.7,113.3 457.7,118.1 457.9,107.9 458.1,120.3 458.4,115.4 458.8,108.6 458.9,114.7 459.0,114.2 459.1,113.4 459.1,125.6 459.3,113.6 459.3,108.4 459.4,118.3 459.4,105.6 459.5,127.2 459.6,108.6 459.7,114.4 459.7,117.3 459.9,119.2 460.3,111.9 460.3,106.1 460.3,114.5 460.4,105.4 460.4,119.4 460.5,115.3 460.6,116.7 460.9,114.5 460.9,113.9 460.9,116.7 461.1,108.4 461.2,115.3 461.3,109.3 461.4,105.0 461.4,115.2 461.6,114.3 461.9,114.2 461.9,111.9 462.0,112.9 462.2,114.1 462.2,113.2 462.3,108.4 462.6,114.7 463.0,104.9 463.2,121.6 463.3,115.4 463.4,111.0 463.5,122.1 463.6,110.8 463.9,113.4 464.2,112.9 464.6,104.7 464.7,117.2 464.9,110.7 464.9,109.9 465.0,108.8 465.0,107.5 465.0,119.7 465.1,106.5 465.1,107.7 465.3,121.2 465.4,107.9 465.5,108.3 465.6,105.6 465.8,114.5 466.0,106.4 466.3,109.0 466.3,120.2 466.3,115.0 466.4,110.0 466.5,122.2 466.6,120.2 466.9,122.2 466.9,106.8 467.0,114.6 467.1,114.5 467.1,118.8 467.5,121.6 467.6,108.1 467.6,109.1 467.9,117.4 467.9,115.2 468.2,115.3 468.3,118.9 468.4,117.7 468.4,108.3 468.6,128.0 468.6,108.8 468.7,122.2 469.2,120.1 469.3,116.1 469.3,105.5 469.7,108.1 469.9,105.7 469.9,116.1 470.1,105.7 470.3,115.6 470.4,106.9 470.4,105.0 470.6,112.9 470.6,113.2 470.6,114.5 470.7,113.5 470.9,111.2 470.9,105.9 470.9,116.0 471.1,117.8 471.1,119.5 471.1,106.4 471.3,105.1 471.5,107.3 471.5,112.2 471.7,117.2 471.7,113.6 472.2,105.7 472.3,114.1 472.4,114.9 472.5,105.3 472.5,117.1 472.5,119.1 472.9,108.1 472.9,107.0 473.4,114.4 473.4,107.1 473.5,111.8 473.6,111.1 473.7,112.9 473.7,115.4 473.8,112.5 473.9,109.2 474.0,126.0 474.0,105.8 474.0,109.0 474.2,111.1 474.5,123.3 474.6,115.5 474.6,105.0 474.8,118.9 475.0,113.9 475.2,107.4 475.3,124.0 475.4,110.9 475.4,105.4 475.5,108.1 475.8,112.5 476.4,121.9 476.9,106.8 476.9,110.9 477.0,106.5 477.3,124.9 477.3,109.0 477.5,119.5 477.5,111.7 477.6,105.8 477.9,109.8 478.1,118.0 478.3,105.8 478.4,113.7 478.4,121.5 478.4,108.4 478.5,113.4 478.6,118.5 478.7,111.4 478.7,107.0 478.9,112.9 478.9,120.6 479.4,117.1 479.5,106.1 479.6,120.8 479.7,128.0 480.2,119.7 480.2,110.2 480.2,105.9 480.4,118.2 480.4,115.9 480.5,108.7 480.7,111.1 480.7,105.7 480.7,110.6 480.8,111.5 480.9,107.6 481.4,114.7 481.4,110.6 481.5,107.2 481.5,109.7 481.7,108.7 481.8,121.7 481.9,112.6 482.0,120.7 482.1,110.0 482.2,119.2 482.2,111.5 482.2,109.9 482.5,107.9 482.6,118.3 482.6,117.0 482.7,106.9 482.7,113.9 482.8,113.9 482.8,125.5 483.4,115.5 483.5,106.4 483.6,108.3 483.7,117.8 483.8,107.5 483.9,119.2 484.0,117.0 484.0,122.8 484.1,117.5 484.1,107.2 484.2,108.3 484.4,112.9 484.4,117.5 484.5,105.5 484.6,109.8 484.6,115.2 485.1,112.2 485.1,108.5 485.2,118.0 485.2,115.9 485.5,123.1 485.7,114.4 485.9,110.6 486.0,114.9 486.0,118.7 486.2,118.6 486.4,105.8 486.4,109.0 487.0,107.9 487.0,119.7 487.1,122.8 487.3,126.5 487.3,108.9 487.3,113.3 487.3,112.2 487.4,107.3 487.9,128.0 488.0,116.8 488.2,112.7 488.4,119.2 488.4,109.5 488.8,110.9 488.8,107.7 489.0,115.4 489.0,128.0 489.0,112.9 489.0,118.9 489.1,123.6 489.2,111.5 489.3,109.4 489.5,114.0 489.5,112.7 489.5,115.9 489.8,108.0 489.8,114.6 489.9,115.5 490.1,118.9 490.4,115.8 490.7,110.4 490.8,125.6 490.9,106.2 490.9,115.8 491.4,121.6 491.4,108.7 491.5,119.9 491.7,110.5 491.7,107.4 492.0,115.0 492.1,106.7 492.2,111.3 492.2,109.9 492.2,112.0 492.2,112.4 492.4,120.0 492.5,116.2 492.5,124.9 492.6,123.5 492.6,117.4 492.7,111.7 492.7,120.6 492.9,109.4 493.0,108.6 493.1,125.8 493.2,116.6 493.3,119.6 493.5,117.2 493.6,116.3 493.8,107.4 493.9,113.9 494.0,108.8 494.0,123.5 494.8,109.0 494.8,124.0 494.9,115.4 495.0,113.4 495.1,110.6 495.2,112.7 495.4,108.8 495.5,119.6 495.6,119.0 495.6,111.3 495.7,109.3 495.9,123.1 495.9,123.5 495.9,118.7 496.0,114.7 496.0,120.3 496.1,108.4 496.3,115.5 496.4,118.6 496.4,120.1 496.4,108.5 496.4,119.4 496.5,111.1 496.6,107.9 496.7,121.3 496.7,108.6 496.9,110.8 497.1,111.2 497.4,110.4 497.5,118.6 497.7,117.9 497.9,123.1 498.2,111.3 498.3,113.9 498.4,126.7 498.4,123.0 498.5,120.2 498.5,114.5 498.5,124.9 498.5,122.4 498.8,111.3 498.8,114.1 498.9,118.4 499.0,110.2 499.3,122.5 499.4,122.9 499.5,109.4 499.5,116.9 499.6,115.5 499.6,120.8 499.7,119.5 499.7,116.0 500.1,122.1 500.1,111.5 500.2,128.0 500.3,115.6 500.3,107.9 500.6,118.2 500.7,109.8 500.7,112.7 500.9,111.2 501.0,107.6 501.2,110.0 501.5,124.3 501.7,109.3 501.7,107.2 501.8,109.7 501.8,114.6 502.4,111.0 502.6,119.1 502.8,116.5 502.9,123.5 502.9,122.6 503.2,115.3 503.2,114.2 503.3,109.0 503.4,128.0 503.4,109.3 503.4,110.7 503.5,112.5 503.7,108.9 503.7,114.3 504.1,128.0 504.5,112.1 504.6,110.9 504.6,109.3 504.7,110.8 504.8,120.4 504.9,117.4 505.2,116.9 505.3,118.1 505.4,112.0 505.4,126.1 505.6,111.5 505.7,120.3 506.0,110.7 506.2,115.0 506.6,114.3 506.6,114.7 506.6,122.7 506.6,120.7 506.7,110.1 507.0,114.5 507.1,119.9 507.5,119.3 507.8,120.8 508.1,124.7 508.2,114.0 508.3,114.5 508.3,120.7 508.5,123.7 509.0,105.2 509.0,111.8 509.2,128.0 509.3,109.8 509.3,107.6 509.4,117.4 509.5,117.4 509.6,111.0 509.9,126.6 510.3,105.9 510.3,111.7 510.4,102.0 510.5,117.5 510.7,101.1 510.8,113.9 510.8,127.6 511.0,116.9 511.1,108.7 511.2,120.1 511.6,115.7 511.7,111.1 511.7,113.5 511.9,118.5 512.0,128.0 512.2,109.4 512.2,121.0 512.3,119.4 512.6,119.9 512.7,128.0 512.9,121.9 512.9,112.2 512.9,114.8 513.3,107.3 513.4,108.1 513.7,105.0 513.7,128.0 513.7,124.3 513.8,107.8 513.9,125.6 513.9,111.0 513.9,109.4 514.3,121.1 514.5,123.9 514.6,103.2 514.7,125.0 514.8,126.4 515.0,105.3 515.0,128.0 515.0,113.2 515.0,104.5 515.1,118.0 515.4,107.1 440.6,159.0 443.9,166.4 460.5,135.2 463.2,142.2 469.9,153.2 485.0,134.1 493.3,141.5 495.7,144.9 500.4,146.9 500.4,138.2 503.5,137.5 507.2,158.3 494.7,165.3 507.8,171.5 496.4,135.2 469.5,129.4 475.6,128.5 476.9,132.1 481.2,128.1 463.5,130.8 459.4,126.1 466.2,125.4 514.0,91.2 515.4,95.2 406.3,120.4 413.0,125.4 428.0,126.0 433.0,128.0" fill="none" stroke="none" marker-start="url(#cb)" marker-mid="url(#cb)" marker-end="url(#cb)"/>
<polyline points="323.4,40.0 323.9,40.1 324.4,40.2 324.9,40.4 325.4,40.5 325.9,40.7 326.4,41.5 326.9,42.2 327.4,43.0 327.9,43.7 328.4,45.2 328.9,46.2 329.4,47.2 329.9,48.2 330.4,49.2 330.9,50.1 331.4,51.0 331.9,51.9 332.4,52.8 332.9,53.6 333.4,54.5 333.9,55.3 334.4,56.0 334.9,56.8 335.4,57.5 335.9,58.2 336.4,59.0 336.9,59.6 337.4,60.3 337.9,61.0 338.4,61.6 338.9,62.2 339.4,62.8 339.9,63.4 340.4,64.0 340.9,64.6 341.4,65.1 341.9,65.7 342.4,66.2 342.9,66.8 343.4,67.3 343.9,67.8 344.4,68.3 344.9,68.8 345.4,69.3 345.9,69.8 346.4,70.3 346.9,70.8 347.4,71.3 347.9,71.7 348.4,72.2 348.9,72.7 349.4,73.1 349.9,73.6 350.4,74.0 350.9,74.5 351.4,75.0 351.9,75.4 352.4,75.8 352.9,76.3 353.4,76.7 353.9,77.1 354.4,77.6 354.9,78.0 355.4,78.4 355.9,78.8 356.4,79.2 356.9,79.6 357.4,80.0 357.9,80.4 358.4,80.8 358.9,81.2 359.4,81.6 359.9,82.0 360.4,82.4 360.9,82.7 361.4,83.1 361.9,83.5 362.4,83.9 362.9,84.2 363.4,84.6 363.9,84.9 364.4,85.3 364.9,85.6 365.4,86.0 365.9,86.3 366.4,86.7 366.9,87.0 367.4,87.3 367.9,87.7 368.4,88.0 368.9,88.3 369.4,88.6 369.9,89.0 370.4,89.3 370.9,89.6 371.4,89.9 371.9,90.2 372.4,90.5 372.9,90.8 373.4,91.1 373.9,91.4 374.4,91.7 374.9,92.0 375.4,92.3 375.9,92.5 376.4,92.8 376.9,93.1 377.4,93.4 377.9,93.6 378.4,93.9 378.9,94.2 379.4,94.4 379.9,94.7 380.4,94.9 380.9,95.2 381.4,95.4 381.9,95.7 382.4,95.9 382.9,96.2 383.4,96.4 383.9,96.6 384.4,96.9 384.9,97.1 385.4,97.3 385.9,97.5 386.4,97.8 386.9,98.0 387.4,98.2 387.9,98.4 388.4,98.6 388.9,98.8 389.4,99.1 389.9,99.3 390.4,99.5 390.9,99.7 391.4,99.9 391.9,100.0 392.4,100.2 392.9,100.4 393.4,100.6 393.9,100.8 394.4,101.0 394.9,101.2 395.4,101.3 395.9,101.5 396.4,101.7 396.9,101.9 397.4,102.0 397.9,102.2 398.4,102.4 398.9,102.5 399.4,102.7 399.9,102.9 400.4,103.0 400.9,103.2 401.4,103.3 401.9,103.5 402.4,103.6 402.9,103.8 403.4,103.9 403.9,104.0 404.4,104.2 404.9,104.3 405.4,104.5 405.9,104.6 406.4,104.7 406.9,104.9 407.4,105.0 407.9,105.1 408.4,105.2 408.9,105.4 409.4,105.5 409.9,105.6 410.4,105.7 410.9,105.8 411.4,106.0 411.9,106.1 412.4,106.2 412.9,106.3 413.4,106.4 413.9,106.5 414.4,106.6 414.9,106.7 415.4,106.8 415.9,106.9 416.4,107.0 416.9,107.1 417.4,107.2 417.9,107.3 418.4,107.4 418.9,107.5 419.4,107.6 419.9,107.6 420.4,107.7 420.9,107.8 421.4,107.9 421.9,108.0 422.4,108.1 422.9,108.1 423.4,108.2 423.9,108.3 424.4,108.4 424.9,108.4 425.4,108.5 425.9,108.6 426.4,108.7 426.9,108.7 427.4,108.8 427.9,108.9 428.4,108.9 428.9,109.0 429.4,109.1 429.9,109.1 430.4,109.2 430.9,109.2 431.4,109.3 431.9,109.4 432.4,109.4 432.9,109.5 433.4,109.5 433.9,109.6 434.4,109.6 434.9,109.7 435.4,109.7 435.9,109.8 436.4,109.8 436.9,109.9 437.4,109.9 437.9,110.0 438.4,110.0 438.9,110.1 439.4,110.1 439.9,110.2 440.4,110.2 440.9,110.2 441.4,110.3 441.9,110.3 442.4,110.4 442.9,110.4 443.4,110.4 443.9,110.5 444.4,110.5 444.9,110.6 445.4,110.6 445.9,110.6 446.4,110.7 446.9,110.7 447.4,110.7 447.9,110.8 448.4,110.8 448.9,110.8 449.4,110.9 449.9,110.9 450.4,110.9 450.9,111.0 451.4,111.0 451.9,111.0 452.4,111.1 452.9,111.1 453.4,111.1 453.9,111.1 454.4,111.2 454.9,111.2 455.4,111.2 455.9,111.3 456.4,111.3 456.9,111.3 457.4,111.4 457.9,111.4 458.4,111.4 458.9,111.4 459.4,111.5 459.9,111.5 460.4,111.5 460.9,111.5 461.4,111.6 461.9,111.6 462.4,111.6 462.9,111.7 463.4,111.7 463.9,111.7 464.4,111.7 464.9,111.8 465.4,111.8 465.9,111.8 466.4,111.9 466.9,111.9 467.4,111.9 467.9,111.9 468.4,112.0 468.9,112.0 469.4,112.0 469.9,112.1 470.4,112.1 470.9,112.1 471.4,112.2 471.9,112.2 472.4,112.2 472.9,112.3 473.4,112.3 473.9,112.3 474.4,112.4 474.9,112.4 475.4,112.4 475.9,112.5 476.4,112.5 476.9,112.5 477.4,112.6 477.9,112.6 478.4,112.6 478.9,112.7 479.4,112.7 479.9,112.8 480.4,112.8 480.9,112.8 481.4,112.9 481.9,112.9 482.4,113.0 482.9,113.0 483.4,113.1 483.9,113.1 484.4,113.1 484.9,113.2 485.4,113.2 485.9,113.3 486.4,113.3 486.9,113.4 487.4,113.4 487.9,113.5 488.4,113.5 488.9,113.6 489.4,113.7 489.9,113.7 490.4,113.8 490.9,113.8 491.4,113.9 491.9,113.9 492.4,114.0 492.9,114.1 493.4,114.1 493.9,114.2 494.4,114.3 494.9,114.3 495.4,114.4 495.9,114.5 496.4,114.5 496.9,114.6 497.4,114.7 497.9,114.7 498.4,114.8 498.9,114.9 499.4,115.0 499.9,115.1 500.4,115.1 500.9,115.2 501.4,115.3 501.9,115.4 502.4,115.5 502.9,115.6 503.4,115.6 503.9,115.7 504.4,115.8 504.9,115.9 505.4,116.0 505.9,116.1 506.4,116.2 506.9,116.3 507.4,116.4 507.9,116.5 508.4,116.6 508.9,116.7 509.4,116.8 509.9,116.9 510.4,117.0 510.9,117.2 511.4,117.3 511.9,117.4 512.4,117.5 512.9,117.6 513.4,117.7 513.9,117.9 514.4,118.0 514.9,118.1 515.4,118.2 515.9,118.4" fill="none" stroke="#e8372f" stroke-width="2.1" stroke-linejoin="round" stroke-linecap="butt"/>
<line x1="311" y1="24.9" x2="311" y2="184.5" stroke="#000" stroke-width="2.8" />
<line x1="309.7" y1="183.2" x2="522.6" y2="183.2" stroke="#000" stroke-width="2.8" />
<line x1="306.6" y1="168.3" x2="311" y2="168.3" stroke="#000" stroke-width="2.8" />
<text transform="translate(304.5 171) scale(0.93 1)" font-size="10" font-weight="bold" text-anchor="end" fill="#000" >0.01</text>
<line x1="306.6" y1="141.5" x2="311" y2="141.5" stroke="#000" stroke-width="2.8" />
<text transform="translate(304.5 144.2) scale(0.93 1)" font-size="10" font-weight="bold" text-anchor="end" fill="#000" >0.1</text>
<line x1="306.6" y1="114.7" x2="311" y2="114.7" stroke="#000" stroke-width="2.8" />
<text transform="translate(304.5 117.4) scale(0.93 1)" font-size="10" font-weight="bold" text-anchor="end" fill="#000" >1</text>
<line x1="306.6" y1="87.9" x2="311" y2="87.9" stroke="#000" stroke-width="2.8" />
<text transform="translate(304.5 90.6) scale(0.93 1)" font-size="10" font-weight="bold" text-anchor="end" fill="#000" >10</text>
<line x1="306.6" y1="61.1" x2="311" y2="61.1" stroke="#000" stroke-width="2.8" />
<text transform="translate(304.5 63.8) scale(0.93 1)" font-size="10" font-weight="bold" text-anchor="end" fill="#000" >100</text>
<line x1="306.6" y1="34.4" x2="311" y2="34.4" stroke="#000" stroke-width="2.8" />
<text transform="translate(304.5 37.1) scale(0.93 1)" font-size="10" font-weight="bold" text-anchor="end" fill="#000" >1000</text>
<line x1="324.3" y1="183.2" x2="324.3" y2="188.9" stroke="#000" stroke-width="2.8" />
<text transform="translate(324.3 200.5) scale(0.93 1)" font-size="10" font-weight="bold" text-anchor="middle" fill="#000" >0</text>
<line x1="350.5" y1="183.2" x2="350.5" y2="188.9" stroke="#000" stroke-width="2.8" />
<text transform="translate(350.5 200.5) scale(0.93 1)" font-size="10" font-weight="bold" text-anchor="middle" fill="#000" >1</text>
<line x1="376.7" y1="183.2" x2="376.7" y2="188.9" stroke="#000" stroke-width="2.8" />
<text transform="translate(376.7 200.5) scale(0.93 1)" font-size="10" font-weight="bold" text-anchor="middle" fill="#000" >2</text>
<line x1="402.9" y1="183.2" x2="402.9" y2="188.9" stroke="#000" stroke-width="2.8" />
<text transform="translate(402.9 200.5) scale(0.93 1)" font-size="10" font-weight="bold" text-anchor="middle" fill="#000" >3</text>
<line x1="429.1" y1="183.2" x2="429.1" y2="188.9" stroke="#000" stroke-width="2.8" />
<text transform="translate(429.1 200.5) scale(0.93 1)" font-size="10" font-weight="bold" text-anchor="middle" fill="#000" >4</text>
<line x1="455.3" y1="183.2" x2="455.3" y2="188.9" stroke="#000" stroke-width="2.8" />
<text transform="translate(455.3 200.5) scale(0.93 1)" font-size="10" font-weight="bold" text-anchor="middle" fill="#000" >5</text>
<line x1="481.5" y1="183.2" x2="481.5" y2="188.9" stroke="#000" stroke-width="2.8" />
<text transform="translate(481.5 200.5) scale(0.93 1)" font-size="10" font-weight="bold" text-anchor="middle" fill="#000" >6</text>
<line x1="507.7" y1="183.2" x2="507.7" y2="188.9" stroke="#000" stroke-width="2.8" />
<text transform="translate(507.7 200.5) scale(0.93 1)" font-size="10" font-weight="bold" text-anchor="middle" fill="#000" >7</text>
<line x1="311.2" y1="183.2" x2="311.2" y2="186" stroke="#000" stroke-width="2.8" />
<line x1="337.4" y1="183.2" x2="337.4" y2="186" stroke="#000" stroke-width="2.8" />
<line x1="363.6" y1="183.2" x2="363.6" y2="186" stroke="#000" stroke-width="2.8" />
<line x1="389.8" y1="183.2" x2="389.8" y2="186" stroke="#000" stroke-width="2.8" />
<line x1="416" y1="183.2" x2="416" y2="186" stroke="#000" stroke-width="2.8" />
<line x1="442.2" y1="183.2" x2="442.2" y2="186" stroke="#000" stroke-width="2.8" />
<line x1="468.4" y1="183.2" x2="468.4" y2="186" stroke="#000" stroke-width="2.8" />
<line x1="494.6" y1="183.2" x2="494.6" y2="186" stroke="#000" stroke-width="2.8" />
<line x1="520.8" y1="183.2" x2="520.8" y2="186" stroke="#000" stroke-width="2.8" />
<text x="416" y="219" font-size="10.3" font-weight="normal" text-anchor="middle" fill="#000" >Scattering vector <tspan font-style="italic">q</tspan> [nm<tspan dy="-4.6" font-size="7">-1</tspan><tspan dy="4.6">]</tspan></text>
<text transform="translate(280.5 105.4) rotate(-90)" font-size="10.3" text-anchor="middle" fill="#000">Intensity <tspan font-style="italic">I</tspan>(<tspan font-style="italic">q</tspan>) [a.u.]</text>
<polyline points="576.7,167.9 576.9,158.8 577.8,151.0 578.4,144.3 579.4,139.3 580.0,134.2 580.4,130.2 581.4,124.2 582.0,116.4 582.7,108.0 583.2,99.6 583.9,91.3 584.5,83.3 585.4,76.6 586.3,70.9 587.5,65.9 588.2,62.9 588.9,60.0 589.6,57.4 590.3,55.0 591.0,52.8 591.6,50.8 592.3,48.9 593.0,47.3 593.7,45.9 594.4,44.8 595.1,43.7 595.8,42.8 596.5,42.0 597.1,41.3 597.8,40.8 598.5,40.2 599.2,39.8 599.9,39.3 600.6,38.9 601.3,38.5 602.0,38.3 602.6,38.1 603.3,38.0 604.0,38.0 604.7,38.1 605.4,38.2 606.1,38.4 606.8,38.6 607.5,38.8 608.2,39.0 608.8,39.3 609.5,39.5 610.2,39.8 610.9,40.2 611.6,40.6 612.3,41.1 613.0,41.6 613.7,42.2 614.3,42.8 615.0,43.4 615.7,44.1 616.4,44.7 617.1,45.4 617.8,46.1 618.5,46.8 619.2,47.6 619.8,48.5 620.5,49.3 621.2,50.2 621.9,51.1 622.6,52.1 623.3,53.0 624.0,54.0 624.7,54.9 625.4,55.9 626.0,56.9 626.7,57.9 627.4,59.0 628.1,60.1 628.8,61.2 629.5,62.4 630.2,63.5 630.9,64.7 631.5,65.8 632.2,67.0 632.9,68.1 633.6,69.2 634.3,70.3 635.0,71.4 635.7,72.5 636.4,73.7 637.0,74.8 637.7,75.9 638.4,77.0 639.1,78.1 639.8,79.2 640.5,80.3 641.2,81.4 641.9,82.4 642.6,83.4 643.2,84.4 643.9,85.4 644.6,86.3 645.3,87.2 646.0,88.1 646.7,89.0 647.4,89.9 648.1,90.8 648.7,91.7 649.4,92.5 650.1,93.4 650.8,94.3 651.5,95.2 652.2,96.2 652.9,97.1 653.6,98.1 654.2,99.0 654.9,100.0 655.6,100.9 656.3,101.9 657.0,102.8 657.7,103.8 658.4,104.6 659.1,105.5 659.8,106.3 660.4,107.1 661.1,107.9 661.8,108.7 662.5,109.5 663.2,110.2 663.9,111.0 664.6,111.8 665.3,112.5 665.9,113.3 666.6,114.1 667.3,114.9 668.0,115.7 668.7,116.5 669.4,117.3 670.1,118.1 670.8,118.9 671.4,119.6 672.1,120.4 672.8,121.2 673.5,121.9 674.2,122.7 674.9,123.4 675.6,124.1 676.3,124.8 677.0,125.5 677.6,126.1 678.3,126.8 679.0,127.4 679.7,128.0 680.4,128.6 681.1,129.3 681.8,129.9 682.5,130.4 683.1,131.0 683.8,131.6 684.5,132.2 685.2,132.7 685.9,133.3 686.6,133.8 687.3,134.4 688.0,134.9 688.6,135.4 689.3,135.9 690.0,136.4 690.7,136.9 691.4,137.4 692.1,137.9 692.8,138.4 693.5,138.8 694.2,139.3 694.8,139.7 695.5,140.2 696.2,140.6 696.9,141.1 697.6,141.5 698.3,141.9 699.0,142.3 699.7,142.8 700.3,143.2 701.0,143.6 701.7,144.0 702.4,144.4 703.1,144.8 703.8,145.3 704.5,145.7 705.2,146.1 705.8,146.5 706.5,146.9 707.2,147.3 707.9,147.7 708.6,148.1 709.3,148.5 710.0,148.9 710.7,149.2 711.4,149.6 712.0,149.9 712.7,150.3 713.4,150.6 714.1,150.9 714.8,151.3 715.5,151.6 716.2,151.9 716.9,152.2 717.5,152.5 718.2,152.7 718.9,153.0 719.6,153.3 720.3,153.6 721.0,153.8 721.7,154.1 722.4,154.3 723.0,154.6 723.7,154.9 724.4,155.1 725.1,155.4 725.8,155.6 726.5,155.9 727.2,156.1 727.9,156.4 728.6,156.6 729.2,156.8 729.9,157.0 730.6,157.2 731.3,157.5 732.0,157.7 732.7,157.9 733.4,158.1 734.1,158.3 734.7,158.6 735.4,158.8 736.1,159.0 736.8,159.3 737.5,159.5 738.2,159.8 738.9,160.1 739.6,160.4 740.2,160.7 740.9,161.0 741.6,161.3 742.3,161.6 743.0,162.0 743.7,162.3 744.4,162.6 745.1,163.0 745.8,163.4 746.4,163.7 747.1,164.1 747.8,164.5 748.5,164.9 749.2,165.3 749.9,165.7 750.6,166.2 751.3,166.6 751.9,167.0 752.6,167.4 753.3,167.9 754.0,168.3 754.7,168.7" fill="none" stroke="none" marker-start="url(#cc)" marker-mid="url(#cc)" marker-end="url(#cc)"/>
<line x1="559.5" y1="24.9" x2="559.5" y2="185.3" stroke="#000" stroke-width="2.8" />
<line x1="558.2" y1="184" x2="784.2" y2="184" stroke="#000" stroke-width="2.8" />
<line x1="555.6" y1="168" x2="559.5" y2="168" stroke="#000" stroke-width="2.8" />
<text transform="translate(552.6 170.8) scale(0.93 1)" font-size="10" font-weight="bold" text-anchor="end" fill="#000" >0</text>
<line x1="555.6" y1="136.5" x2="559.5" y2="136.5" stroke="#000" stroke-width="2.8" />
<text transform="translate(552.6 139.3) scale(0.93 1)" font-size="10" font-weight="bold" text-anchor="end" fill="#000" >1</text>
<line x1="555.6" y1="105" x2="559.5" y2="105" stroke="#000" stroke-width="2.8" />
<text transform="translate(552.6 107.8) scale(0.93 1)" font-size="10" font-weight="bold" text-anchor="end" fill="#000" >2</text>
<line x1="555.6" y1="73.5" x2="559.5" y2="73.5" stroke="#000" stroke-width="2.8" />
<text transform="translate(552.6 76.3) scale(0.93 1)" font-size="10" font-weight="bold" text-anchor="end" fill="#000" >3</text>
<line x1="555.6" y1="42" x2="559.5" y2="42" stroke="#000" stroke-width="2.8" />
<text transform="translate(552.6 44.8) scale(0.93 1)" font-size="10" font-weight="bold" text-anchor="end" fill="#000" >4</text>
<line x1="576.4" y1="184" x2="576.4" y2="189.6" stroke="#000" stroke-width="2.8" />
<text transform="translate(576.4 201.2) scale(0.93 1)" font-size="10" font-weight="bold" text-anchor="middle" fill="#000" >0</text>
<line x1="610.8" y1="184" x2="610.8" y2="189.6" stroke="#000" stroke-width="2.8" />
<text transform="translate(610.8 201.2) scale(0.93 1)" font-size="10" font-weight="bold" text-anchor="middle" fill="#000" >5</text>
<line x1="645.2" y1="184" x2="645.2" y2="189.6" stroke="#000" stroke-width="2.8" />
<text transform="translate(645.2 201.2) scale(0.93 1)" font-size="10" font-weight="bold" text-anchor="middle" fill="#000" >10</text>
<line x1="679.6" y1="184" x2="679.6" y2="189.6" stroke="#000" stroke-width="2.8" />
<text transform="translate(679.6 201.2) scale(0.93 1)" font-size="10" font-weight="bold" text-anchor="middle" fill="#000" >15</text>
<line x1="714" y1="184" x2="714" y2="189.6" stroke="#000" stroke-width="2.8" />
<text transform="translate(714 201.2) scale(0.93 1)" font-size="10" font-weight="bold" text-anchor="middle" fill="#000" >20</text>
<line x1="748.4" y1="184" x2="748.4" y2="189.6" stroke="#000" stroke-width="2.8" />
<text transform="translate(748.4 201.2) scale(0.93 1)" font-size="10" font-weight="bold" text-anchor="middle" fill="#000" >25</text>
<line x1="782.8" y1="184" x2="782.8" y2="189.6" stroke="#000" stroke-width="2.8" />
<text transform="translate(782.8 201.2) scale(0.93 1)" font-size="10" font-weight="bold" text-anchor="middle" fill="#000" >30</text>
<line x1="559.2" y1="184" x2="559.2" y2="186.8" stroke="#000" stroke-width="2.8" />
<line x1="593.6" y1="184" x2="593.6" y2="186.8" stroke="#000" stroke-width="2.8" />
<line x1="628" y1="184" x2="628" y2="186.8" stroke="#000" stroke-width="2.8" />
<line x1="662.4" y1="184" x2="662.4" y2="186.8" stroke="#000" stroke-width="2.8" />
<line x1="696.8" y1="184" x2="696.8" y2="186.8" stroke="#000" stroke-width="2.8" />
<line x1="731.2" y1="184" x2="731.2" y2="186.8" stroke="#000" stroke-width="2.8" />
<line x1="765.6" y1="184" x2="765.6" y2="186.8" stroke="#000" stroke-width="2.8" />
<text x="671" y="219.1" font-size="10.3" font-weight="normal" text-anchor="middle" fill="#000" >Radius <tspan font-style="italic">r</tspan> [nm]</text>
<text transform="translate(544.6 106.4) rotate(-90)" font-size="10.3" text-anchor="middle" fill="#000">Pair distance distribution <tspan font-style="italic">P</tspan>(<tspan font-style="italic">r</tspan>)</text>
<rect x="65.5" y="260.1" width="1.8" height="1.8" fill="#000"/>
<rect x="65.5" y="267" width="1.8" height="1.8" fill="#000"/>
<rect x="65.5" y="274" width="1.8" height="1.8" fill="#000"/>
<rect x="65.5" y="280.9" width="1.8" height="1.8" fill="#000"/>
<rect x="65.5" y="287.8" width="1.8" height="1.8" fill="#000"/>
<rect x="65.5" y="294.8" width="1.8" height="1.8" fill="#000"/>
<rect x="65.5" y="301.7" width="1.8" height="1.8" fill="#000"/>
<rect x="65.5" y="308.6" width="1.8" height="1.8" fill="#000"/>
<rect x="65.5" y="315.5" width="1.8" height="1.8" fill="#000"/>
<rect x="65.5" y="322.5" width="1.8" height="1.8" fill="#000"/>
<rect x="65.5" y="329.4" width="1.8" height="1.8" fill="#000"/>
<rect x="65.5" y="336.3" width="1.8" height="1.8" fill="#000"/>
<rect x="65.5" y="343.3" width="1.8" height="1.8" fill="#000"/>
<rect x="65.5" y="350.2" width="1.8" height="1.8" fill="#000"/>
<rect x="65.5" y="357.1" width="1.8" height="1.8" fill="#000"/>
<rect x="65.5" y="364.1" width="1.8" height="1.8" fill="#000"/>
<rect x="65.5" y="371" width="1.8" height="1.8" fill="#000"/>
<rect x="65.5" y="377.9" width="1.8" height="1.8" fill="#000"/>
<rect x="65.5" y="384.8" width="1.8" height="1.8" fill="#000"/>
<rect x="65.5" y="391.8" width="1.8" height="1.8" fill="#000"/>
<rect x="65.5" y="398.7" width="1.8" height="1.8" fill="#000"/>
<polyline points="47.9,406.3 48.0,406.9 48.3,406.0 48.5,405.8 48.8,404.9 49.0,404.6 49.3,404.4 49.5,403.8 49.8,404.1 49.7,404.3 49.9,403.5 50.3,402.6 50.7,402.2 50.8,401.9 51.0,401.8 51.4,401.3 51.5,400.8 51.5,400.9 51.9,400.5 52.3,399.9 52.5,398.9 52.4,399.4 53.0,397.9 53.1,397.6 53.2,398.0 53.5,397.1 53.9,396.1 54.1,395.7 54.1,395.5 54.5,394.4 54.5,395.3 55.0,393.8 54.9,393.8 55.4,392.8 55.5,392.7 55.7,391.9 55.9,391.6 56.4,389.8 56.4,390.3 56.7,389.2 56.8,389.7 57.2,387.9 57.5,387.2 57.5,387.2 57.9,385.9 58.0,386.0 58.2,385.4 58.7,383.9 58.7,383.9 59.1,382.8 59.4,382.5 59.5,381.9 59.6,381.9 60.0,380.3 60.2,380.1 60.3,379.7 60.8,378.7 60.7,379.2 60.9,378.5 61.3,377.4 61.5,377.4 61.6,377.1 62.0,376.6 62.1,375.2 62.6,375.0 62.7,374.6 62.9,374.0 63.0,374.2 63.5,372.8 63.5,372.5 63.8,372.4 64.1,372.3 64.3,373.2 64.4,371.8 64.8,371.2 65.0,370.6 65.0,371.5 65.3,371.4 65.5,371.6 65.7,370.5 66.1,371.0 66.5,370.1 66.5,371.8 66.9,370.9 67.0,370.0 67.4,373.4 67.3,372.8 67.6,373.0 68.1,373.6 68.3,372.9 68.5,374.9 68.7,373.4 68.8,376.1 69.3,375.6 69.3,373.9 69.6,376.9 69.7,378.0 70.1,376.9 70.2,378.4 70.5,377.8 70.5,377.4 70.9,376.2 71.0,380.1 71.3,379.2 71.6,380.7 71.7,379.5 71.8,379.9 72.2,382.8 72.6,382.1 72.7,382.2 73.1,382.0 73.1,383.8 73.4,385.1 73.5,383.9 73.7,384.5 74.2,384.2 74.3,387.7 74.7,385.8 74.9,386.8 75.1,389.7 75.2,387.3 75.4,385.9 75.6,387.0 75.9,388.4 76.2,391.9 76.5,390.2 76.8,390.0 76.9,391.8 77.1,392.8 77.2,389.8 77.5,393.9 77.7,393.1 78.1,393.1 78.1,387.8 78.4,393.0 78.5,395.6 78.8,392.5 79.2,398.8 79.2,393.8 79.5,391.6 79.6,395.5 80.2,395.4 80.4,397.1 80.4,394.3 80.9,398.8 80.8,393.8 81.1,395.8 81.4,392.3 81.5,393.6 82.0,396.8 82.3,394.5 82.2,395.0 82.5,396.0 82.7,397.5 83.2,399.3 83.4,399.5 83.3,400.2 83.9,398.0 84.0,395.6 84.1,392.3 84.3,396.4 84.7,395.1 84.7,391.7 85.0,403.2 85.1,391.8 85.5,399.1 85.9,399.9 86.1,397.3 86.1,406.7 86.3,398.2 86.7,395.7 86.8,404.1 86.9,395.6 87.5,393.5 87.4,394.9 88.0,396.2 88.1,398.6 88.2,399.6 88.4,393.2 88.7,399.6 89.1,406.2 89.2,396.0 89.3,398.0 89.7,400.9 89.8,402.7 90.2,396.1 90.2,395.1 90.5,394.9 90.6,402.3 90.9,401.6" fill="none" stroke="none" marker-start="url(#dk)" marker-mid="url(#dk)" marker-end="url(#dk)"/>
<polyline points="64.5,370.8 64.8,370.0 65.2,369.4 65.5,368.6 65.9,368.6 66.2,368.0 66.6,368.1 66.9,367.3 67.3,366.7 67.6,366.8 68.0,365.8 68.3,365.4 68.7,365.7 69.0,365.8 69.4,364.8 69.7,365.4 70.1,365.3 70.4,364.7 70.8,364.8 71.1,364.5 71.5,364.5 71.8,364.6 72.2,364.0 72.5,364.5 72.9,364.3 73.2,364.2 73.6,363.2 73.9,363.1 74.3,363.8 74.6,363.3 75.0,363.2 75.3,363.0 75.7,362.7 76.0,363.0 76.4,362.7 76.7,362.6 77.1,362.9 77.4,362.3 77.8,362.8 78.1,361.7 78.5,363.1 78.8,361.8 79.2,362.3 79.5,362.3 79.9,361.9 80.2,362.0 80.6,361.6 80.9,361.0 81.3,361.5 81.6,361.7 82.0,361.1 82.3,360.6 82.7,360.8 83.0,361.0 83.4,360.9 83.7,361.0 84.1,360.8 84.4,360.7 84.8,359.8 85.1,361.0 85.5,360.3 85.8,360.4 86.2,360.0 86.5,359.9 86.9,359.9 87.2,360.3 87.6,360.2 87.9,359.9 88.3,360.2 88.6,359.4 89.0,359.6 89.3,359.2 89.7,359.7 90.0,359.3 90.4,359.5 90.7,359.6 91.1,358.4 91.4,359.6 91.8,359.0 92.1,358.7 92.5,358.2 92.8,358.6 93.2,357.9 93.5,358.6 93.9,358.4 94.2,359.0 94.6,358.3 94.9,358.6 95.3,358.6 95.6,358.8 96.0,358.0 96.3,358.3 96.7,357.5 97.0,357.5 97.4,357.7 97.7,357.7 98.1,357.3 98.4,357.5 98.8,357.8 99.1,357.3 99.5,357.4 99.8,357.1 100.2,357.7 100.5,357.8 100.9,357.2 101.2,357.1 101.6,357.5 101.9,357.1 102.3,356.7 102.6,356.4 103.0,356.6 103.3,357.4 103.7,356.5 104.0,357.5 104.4,356.5 104.7,356.4 105.1,356.8 105.4,356.2 105.8,356.3 106.1,355.8 106.5,355.7 106.8,355.7 107.2,355.9 107.5,355.6 107.9,355.1 108.2,355.8 108.6,355.5 108.9,355.3 109.3,355.2 109.6,354.6 110.0,355.7 110.3,354.9 110.7,355.2 111.0,355.4 111.4,355.2 111.7,354.9 112.1,354.8 112.4,354.8 112.8,355.0 113.1,354.8 113.5,354.5 113.8,354.7 114.2,354.6 114.5,354.7 114.9,354.5 115.2,354.8 115.6,354.4 115.9,354.6 116.3,354.3 116.6,354.1 117.0,353.9 117.3,354.2 117.7,354.4 118.0,354.6 118.4,354.2 118.7,354.1 119.1,354.1 119.4,354.6 119.8,354.3 120.1,354.1 120.5,354.6 120.8,354.0 121.2,354.4 121.5,354.4 121.9,354.4 122.2,354.2 122.6,354.9 122.9,355.1 123.3,354.3 123.6,354.8 124.0,355.0 124.3,355.5 124.7,354.7 125.0,354.6 125.4,355.0 125.7,355.6 126.1,355.1 126.4,355.2 126.8,355.7 127.1,354.6 127.5,354.6 127.8,355.7 128.2,355.7 128.5,355.1 128.9,355.7 129.2,355.7 129.6,355.8 129.9,355.5 130.3,355.7 130.6,355.7 131.0,356.0 131.3,356.0 131.7,356.7 132.0,356.4 132.4,355.8 132.7,356.5 133.1,356.9 133.4,356.6 133.8,357.0 134.1,356.7 134.5,357.0 134.8,356.6 135.2,357.2 135.5,356.6 135.9,357.5 136.2,356.8 136.6,356.7 136.9,357.6 137.3,357.4 137.6,357.6 138.0,357.8 138.3,357.7 138.7,357.6 139.0,358.0 139.4,358.1 139.7,358.3 140.1,358.8 140.4,358.1 140.8,358.4 141.1,358.7 141.5,358.5 141.8,358.4 142.2,358.7 142.5,359.3 142.9,359.0 143.2,359.4 143.6,359.1 143.9,359.6 144.3,359.3 144.6,359.4 145.0,359.8 145.3,359.9 145.7,360.5 146.0,359.6 146.4,360.4 146.7,360.8 147.1,360.9 147.4,360.4 147.8,360.4 148.1,360.6 148.5,360.9 148.8,361.0 149.2,361.1 149.5,361.3 149.9,360.8 150.2,360.9 150.6,360.9 150.9,361.0 151.3,361.4 151.6,361.6 152.0,362.4 152.3,361.8 152.7,361.8 153.0,362.3 153.4,361.7 153.7,362.1 154.1,362.3 154.4,362.3 154.8,362.3 155.1,362.1 155.5,361.9 155.8,362.3 156.2,362.2 156.5,362.7 156.9,362.5 157.2,362.7 157.6,362.1 157.9,363.0 158.3,362.5 158.6,362.3 159.0,362.4 159.3,362.7 159.7,363.3 160.0,363.2 160.4,362.7 160.7,363.1 161.1,363.1 161.4,362.7 161.8,362.9 162.1,362.7 162.5,363.1 162.8,362.6 163.2,363.2 163.5,363.2 163.9,363.3 164.2,363.3 164.6,363.9 164.9,363.5 165.3,363.7 165.6,363.9 166.0,364.0 166.3,364.0 166.7,363.6 167.0,363.5 167.4,363.6 167.7,363.8 168.1,364.0 168.4,364.0 168.8,364.4 169.1,364.0 169.5,364.7 169.8,364.5 170.2,364.0 170.5,364.5 170.9,363.4 171.2,364.7 171.6,364.4 171.9,364.5 172.3,363.9 172.6,365.2 173.0,364.4 173.3,364.4 173.7,364.9 174.0,364.5 174.4,364.3 174.7,364.8 175.1,364.3 175.4,364.9 175.8,364.7 176.1,365.1 176.5,364.4 176.8,365.1 177.2,364.9 177.5,365.4 177.9,364.6 178.2,365.4 178.6,365.1 178.9,365.1 179.3,364.6 179.6,365.0 180.0,365.1 180.3,364.6 180.7,364.5 181.0,364.7 181.4,365.3 181.7,364.9 182.1,365.2 182.4,365.0 182.8,364.9 183.1,364.9 183.5,364.7 183.8,365.2 184.2,364.9 184.5,364.9 184.9,364.3 185.2,364.8 185.6,364.5 185.9,364.5 186.3,365.0 186.6,364.3 187.0,364.5 187.3,364.8 187.7,364.9 188.0,364.3 188.4,364.5 188.7,364.5 189.1,364.0 189.4,363.6 189.8,363.6 190.1,364.3 190.5,364.1 190.8,363.6" fill="none" stroke="none" marker-start="url(#dg)" marker-mid="url(#dg)" marker-end="url(#dg)"/>
<polyline points="47.8,406.8 48.7,405.3 49.8,403.3 50.7,402.4 51.6,400.7 52.5,398.7 53.5,396.6 54.4,395.2 55.2,393.0 56.0,390.9 57.0,388.4 57.9,386.4 58.5,384.8 59.3,382.6 60.2,379.9 61.2,377.7 61.8,375.9 62.4,374.6 63.2,373.0 63.8,371.4 64.3,370.2 64.8,368.6 65.4,367.0 65.9,365.9 66.5,364.2 67.0,363.1 67.3,362.2 68.0,361.1 68.2,360.5 68.7,360.4 69.2,358.7 69.5,357.5 70.0,357.0 70.3,355.7 70.9,355.1 71.3,354.2 71.6,354.7 72.0,351.7 72.4,351.5 72.9,350.4 73.1,350.2 73.4,349.7 74.0,347.7 74.3,347.1 74.7,347.0 74.8,347.0 75.2,345.2 75.8,343.7 76.1,344.5 76.3,344.2 76.7,343.5 77.0,341.6 77.3,341.5 77.5,341.3 77.9,340.7 78.5,339.3 78.6,339.0 78.9,339.2 79.2,337.8 79.6,336.8 80.0,336.2 80.1,335.9 80.6,335.5 80.7,335.1 81.0,334.3 81.5,334.7 81.6,333.7 82.0,332.6 82.3,333.1 82.5,331.7 83.0,331.1 83.2,330.6 83.5,329.7 83.8,329.5 84.0,329.5 84.4,327.8 84.6,328.1 84.9,328.0 85.2,327.5 85.3,327.3 85.8,328.0 85.9,326.6 86.2,325.7 86.5,325.2 86.9,324.7 87.1,324.7 87.1,324.1 87.5,324.8 87.8,322.4 88.2,323.2 88.3,322.9 88.6,321.3 88.7,322.5 89.0,322.0 89.4,320.5 89.5,322.5 89.8,320.9 90.1,319.8 90.3,319.4 90.6,318.8 90.8,319.2 91.0,318.9 91.3,317.4 91.6,317.3 91.7,317.5 92.2,317.1 92.3,317.0 92.7,316.3 92.9,317.0 92.9,317.3 93.1,316.3 93.6,314.0 93.7,315.5 94.1,315.6 94.4,314.8 94.6,314.9 94.8,314.5 95.0,313.0 95.4,311.8 95.5,314.1 95.6,313.1 96.1,313.4 96.2,312.7 96.4,312.6 96.7,313.6 97.1,311.1 97.3,311.9 97.4,310.8 97.8,311.4 98.0,311.6 98.2,311.6 98.3,311.0 98.8,309.3 98.9,310.6 99.2,310.8 99.4,310.7 99.7,311.4 99.8,310.0 100.1,308.3 100.5,308.4 100.8,308.7 101.0,309.3 101.1,307.3 101.4,308.9 101.7,308.4 102.0,306.7 102.1,308.0 102.5,306.4 102.5,307.0 103.0,306.4 103.0,306.8 103.4,305.2 103.6,306.6 103.9,303.8 104.1,305.3 104.5,304.8 104.8,306.6 104.9,305.4 105.0,304.4 105.2,303.8 105.7,304.3 105.8,303.5 106.1,306.1 106.5,300.8 106.7,303.4 106.9,300.7 107.0,304.1 107.2,302.0 107.5,304.2 107.7,301.8 108.1,303.2 108.5,301.9 108.5,302.9 108.8,301.4 109.1,298.0 109.5,300.0 109.7,298.9 109.9,301.4 110.1,300.8 110.4,300.0 110.5,300.3 110.9,299.7 111.2,298.6 111.2,301.3 111.6,299.1 111.7,298.5 111.9,296.9 112.3,297.5 112.6,298.0 112.8,297.5 113.0,297.0 113.3,297.2 113.5,295.8 113.6,297.0 114.1,294.8 114.4,295.4 114.5,295.4 114.8,297.0 114.9,296.4 115.3,295.6 115.5,294.0 115.8,294.6 116.0,295.8 116.2,296.2 116.4,292.8 116.9,293.7 117.1,294.2 117.2,294.4 117.4,293.7 117.8,294.2 118.0,291.5 118.2,295.1 118.6,291.4 118.7,292.8 119.1,293.1 119.1,293.9 119.6,293.2 119.7,293.1 120.1,293.3 120.1,291.5 120.4,292.4 120.6,293.3 121.0,290.1 121.1,289.1 121.5,289.4 121.7,292.4 122.0,292.0 122.2,289.8 122.4,290.4 122.6,290.6 122.9,291.2 123.2,287.1 123.3,288.7 123.7,288.9 123.8,289.7 124.1,289.1 124.3,288.5 124.7,289.1 125.0,285.0 125.0,292.8 125.4,289.5 125.5,289.5 125.8,287.2 126.2,288.5 126.4,290.8 126.7,290.3 127.0,287.7 127.1,285.8 127.3,287.7 127.5,286.9 127.8,288.5 128.1,285.2 128.4,286.7 128.7,287.3 128.9,286.1 129.0,288.3 129.4,285.0 129.7,284.7 129.9,285.9 129.9,287.7 130.3,285.9 130.6,285.4 130.9,287.4 131.2,286.4 131.2,285.3 131.7,286.1 131.8,285.6 132.2,286.8 132.4,286.0 132.5,284.5 132.9,284.9 133.0,285.0 133.2,286.2 133.4,286.2 133.8,284.2 134.1,285.1 134.2,285.9 134.7,287.1 134.7,285.8 135.2,288.4 135.3,285.3 135.6,286.4 135.7,284.7 136.0,283.6 136.2,285.4 136.5,286.0 136.9,285.7 137.1,285.4 137.3,284.6 137.5,283.8 137.7,284.6 138.0,285.9 138.4,286.7 138.5,279.6 138.6,286.1 139.1,286.9 139.3,287.2 139.5,285.7 139.8,286.2 140.0,284.4 140.2,285.0 140.4,286.0 140.8,283.3 140.9,283.8 141.1,285.5 141.6,282.9 141.8,285.3 141.8,282.7 142.3,285.6 142.5,285.4 142.6,284.4 142.9,283.7 143.1,284.5 143.4,281.5 143.6,284.8 144.0,285.8 144.3,287.8 144.3,284.7 144.6,285.3 144.9,288.2 145.0,288.9 145.3,284.9 145.5,287.8 146.0,288.1 146.1,286.9 146.5,284.2 146.7,284.4 146.8,287.2 147.0,290.5 147.2,285.9 147.7,289.3 147.9,290.0 148.2,284.2 148.4,285.5 148.5,289.5 148.9,288.6 149.1,287.8 149.2,286.8 149.5,288.1 149.9,285.8 150.1,291.9 150.3,285.0 150.5,283.8 150.8,287.6 151.1,290.3 151.4,286.6 151.5,287.5 151.9,285.8 152.0,287.7 152.3,285.9 152.6,286.1 152.8,285.2 153.0,287.1 153.2,292.0 153.4,288.3 153.9,289.0 153.9,293.1 154.2,287.4 154.5,286.9 154.9,290.1 155.2,286.7 155.4,289.9 155.5,291.6 155.7,287.2 156.0,288.5 156.1,293.1 156.5,287.6 156.8,288.5 157.0,290.5 157.4,289.6 157.4,288.5 157.7,293.7 158.1,289.4 158.2,291.3 158.4,289.9 158.9,290.5 158.9,288.2 159.3,293.2 159.5,290.4 159.8,294.2 160.1,289.2 160.2,290.7 160.3,292.8 160.8,292.3 160.9,290.7 161.2,292.0 161.5,289.7 161.7,292.7 161.9,287.0 162.3,293.3 162.5,296.0 162.8,295.2 162.9,295.1 163.3,292.6 163.4,294.7 163.6,292.9 163.8,293.7 164.3,293.9 164.5,286.8 164.8,296.5 164.8,295.5 165.0,296.5 165.5,292.8 165.6,296.5 165.9,296.2 166.0,290.3 166.4,291.5 166.6,295.7 166.8,294.2 167.3,296.0 167.3,294.6 167.6,299.7 167.8,292.1 168.2,293.6 168.5,294.6 168.7,294.0 168.9,295.8 169.2,297.3 169.5,294.5 169.7,298.6 169.8,300.8 170.1,300.5 170.4,302.9 170.5,301.0 170.9,298.5 171.1,302.9 171.4,300.6 171.7,303.5 171.8,298.8 172.0,294.4 172.3,296.8 172.6,300.2 173.0,301.4 173.0,299.6 173.4,302.8 173.5,297.7 173.8,299.1 174.2,303.4 174.3,301.2 174.5,301.4 174.7,304.8 175.1,304.3 175.3,300.0 175.6,302.5 175.7,298.0 176.1,302.4 176.4,303.6 176.5,298.6 176.7,306.7 177.1,308.1 177.4,304.7 177.5,305.8 177.8,307.5 178.1,303.6 178.4,306.8 178.4,305.2 178.8,300.8 178.9,302.4 179.2,303.5 179.5,307.9 179.6,305.5 180.0,308.0 180.3,304.6 180.5,302.8 180.8,311.4 181.0,313.2 181.2,307.5 181.6,306.4 181.7,309.9 181.9,304.2 182.2,306.8 182.5,303.9 182.7,308.9 183.1,308.7 183.1,307.1 183.4,306.6 183.7,304.7 183.9,306.6 184.2,312.2 184.4,308.2 184.6,312.6 185.0,307.4 185.2,309.6 185.3,308.7 185.7,309.5 185.9,312.5 186.1,305.2 186.4,312.8 186.7,312.9 187.0,311.3 187.2,311.7 187.5,311.2 187.7,313.7 187.8,312.2 188.2,310.1 188.3,312.8 188.5,315.2 188.8,313.8 189.0,313.1 189.4,313.9 189.6,312.2 190.0,312.7 190.2,309.0 190.5,313.8 190.7,317.2 190.8,313.5 191.0,312.3 191.4,317.6 191.7,315.8 191.7,315.8 192.1,317.0 192.3,317.8 192.6,316.0 192.8,314.1 193.1,321.3 193.4,317.0 193.7,314.9 193.9,317.8 194.1,320.7 194.3,313.7 194.7,321.6 194.7,317.6 195.1,323.9 195.2,320.3 195.5,318.4 195.9,322.6 196.0,322.7 196.2,318.3 196.4,320.2 196.9,318.5 197.0,322.6 197.2,316.3 197.7,320.1 197.9,314.8 197.9,322.5 198.2,314.7 198.6,318.4 198.7,322.3 199.0,320.8 199.2,320.6 199.5,319.4 199.9,321.2 200.1,317.7 200.2,323.7 200.5,325.4 200.6,325.4 201.0,323.4 201.3,327.3 201.4,325.2 201.8,327.0 201.9,325.4 202.2,324.6 202.5,322.6 202.7,317.3 202.9,327.1 203.2,325.1 203.5,331.6 203.7,320.0 204.0,328.6 204.1,323.5 204.5,326.6 204.6,324.0 204.8,327.9 205.1,327.0 205.5,330.1 205.6,328.0 205.9,329.3 206.3,332.0 206.3,329.8 206.6,328.0 206.9,332.4 207.2,328.6 207.5,330.5 207.5,328.2 207.9,327.5 208.0,320.5 208.5,332.3 208.6,326.6 208.9,332.7 209.1,336.1 209.4,326.8 209.7,333.9 209.8,330.9 210.0,332.8 210.3,327.9 210.7,332.1 211.0,332.7 211.2,336.9 211.3,339.2 211.6,333.7 211.9,331.9 212.1,340.2 212.3,333.0 212.8,333.5 212.8,334.1 213.2,335.6 213.2,336.4 213.7,332.7 213.8,334.2 214.2,341.0 214.4,340.3 214.7,336.8 214.9,336.4 215.0,334.8 215.3,339.2 215.7,334.5 215.7,336.6 216.1,335.0 216.3,334.7 216.5,337.0 216.7,337.1 217.0,335.4 217.2,337.2 217.5,337.9 217.7,336.2 218.1,336.0 218.4,337.9 218.4,340.8 218.6,342.3 219.0,339.5 219.2,338.1 219.5,339.2 219.7,345.8 220.0,342.8 220.3,336.7 220.6,340.0 220.8,338.5 221.1,339.3 221.4,335.1 221.5,340.9 221.6,336.4 221.9,339.2 222.2,346.6 222.5,345.1 222.8,338.9 222.9,338.4 223.2,339.1 223.3,335.8 223.7,339.2 224.1,341.9 224.2,339.3 224.5,345.8 224.7,343.2 225.0,341.7 225.1,349.7 225.5,346.4 225.6,344.2 225.9,350.7 226.1,348.9 226.6,342.2 226.6,345.9 226.9,343.4 227.3,340.1 227.4,352.1 227.7,350.8 228.0,341.2 228.2,347.6 228.4,340.1 228.7,350.1 228.8,346.1 229.1,345.4 229.5,351.3 229.6,346.9 230.0,346.2 230.2,350.6 230.5,346.4 230.5,350.7 230.7,347.7 231.1,350.9 231.5,350.5 231.6,351.2 231.9,344.7 232.1,355.6 232.3,348.1 232.6,355.5 232.8,346.8 233.0,348.1 233.4,348.4 233.5,354.0 234.0,348.2 234.1,351.5 234.2,344.0 234.5,348.3 234.7,351.2 235.2,350.2 235.3,343.4 235.6,352.9 235.8,347.2 236.0,358.8 236.4,350.7 236.6,360.5 236.8,354.3 237.0,353.7 237.2,350.1 237.5,351.7 237.9,354.2 238.1,344.7 238.3,356.8 238.6,348.1 238.9,352.0 239.1,342.0 239.2,355.2 239.6,356.6 239.6,354.8 240.0,355.2 240.2,352.4 240.6,354.9 240.8,359.5 241.0,352.7 241.3,356.8 241.6,358.0 241.8,354.0 241.9,356.2 242.1,356.2 242.6,353.5 242.6,366.1 242.9,354.0 243.3,363.5 243.4,360.8 243.6,347.5 243.9,357.7 244.1,361.2 244.3,360.4 244.8,353.2 244.9,358.4 245.3,352.3 245.3,353.0 245.6,356.7 246.0,358.9 246.1,365.3 246.4,360.0 246.7,363.4 247.0,353.4 247.3,353.8 247.4,356.9 247.8,367.5 247.8,353.4 248.2,352.5 248.4,359.6 248.8,365.7 248.9,352.8 249.3,359.4 249.3,354.3 249.6,367.6 249.9,364.4 250.2,362.7 250.4,361.3 250.7,360.7 250.9,362.6 251.3,359.2 251.5,358.3 251.5,357.2 251.9,362.9 252.2,359.3 252.2,367.3 252.7,353.4 252.9,366.5 253.1,366.5 253.3,370.0 253.7,363.2 253.8,357.2 254.0,360.2 254.3,370.6 254.8,363.9 254.8,363.5 255.0,362.8 255.3,365.6 255.7,365.2 255.9,358.7 256.2,363.8 256.4,372.1 256.5,374.4 256.8,366.8 257.2,365.2 257.3,374.8 257.6,367.4 257.9,362.6 258.1,368.2 258.4,372.7 258.4,377.1 258.8,367.1 259.1,372.6 259.3,368.4 259.5,376.2 259.8,372.0 260.1,372.4 260.3,366.1 260.5,369.7 260.8,370.1 261.1,353.2 261.2,376.8 261.4,372.4 261.8,371.8 262.1,371.2 262.3,373.5 262.4,374.7 262.6,366.7 263.1,374.9 263.3,374.9 263.4,374.6" fill="none" stroke="none" marker-start="url(#dr)" marker-mid="url(#dr)" marker-end="url(#dr)"/>
<polyline points="47.7,406.9 48.8,405.6 49.4,405.0 50.3,403.3 51.3,401.0 51.9,399.9 53.0,397.6 53.8,395.9 54.6,393.6 55.4,391.6 56.2,390.3 56.8,389.3 57.5,387.4 58.3,384.6 59.1,383.2 59.9,381.3 60.8,379.4 61.4,377.5 61.7,377.5 62.4,375.5 63.0,374.5 63.4,373.8 63.9,371.4 64.4,371.1 64.8,371.1 65.0,369.9 65.6,369.4 65.9,368.5 66.1,367.5 66.6,367.1 67.1,366.6 67.2,366.5 67.5,366.1 68.1,363.3 68.3,364.4 68.7,362.0 68.8,362.7 69.1,362.2 69.6,362.0 69.7,361.5 70.2,361.5 70.4,359.7 70.7,360.4 70.8,359.8 71.2,358.9 71.5,357.4 71.7,358.5 72.1,357.8 72.3,357.8 72.5,356.9 72.9,356.1 73.1,356.4 73.4,356.0 73.4,356.2 73.7,356.9 74.0,354.3 74.2,356.4 74.6,351.1 75.0,354.4 75.1,352.5 75.5,354.8 75.7,351.7 75.9,353.4 76.1,351.1 76.3,350.7 76.7,352.1 77.0,351.9 77.2,350.0 77.3,353.2 77.7,349.9 77.8,351.7 78.2,348.6 78.3,348.5 78.4,349.5 78.7,348.0 79.0,349.3 79.2,346.2 79.5,348.5 79.6,347.6 80.0,346.7 80.4,347.7 80.5,347.1 80.6,346.7 81.1,347.7 81.3,347.0 81.5,346.8 81.5,348.0 81.9,346.0 82.0,346.9 82.4,345.1 82.5,346.3 82.7,346.0 83.1,344.4 83.3,343.0 83.5,343.2 83.6,343.4 83.9,345.1 84.1,344.1 84.3,343.8 84.5,344.6 84.7,344.8 85.0,345.4 85.1,342.8 85.4,344.1 85.5,344.2 85.9,341.7 86.0,343.1 86.1,341.6 86.4,342.4 86.8,343.0 87.0,339.9 87.0,341.1 87.3,341.0 87.5,342.1 87.7,340.8 88.0,342.2 88.2,340.3 88.5,340.7 88.5,342.3 88.8,341.7 88.9,341.4 89.1,341.0 89.3,342.4 89.6,342.8 89.8,340.2 89.9,339.6 90.2,339.0 90.3,343.1 90.5,339.0 90.9,338.2 91.1,340.5 91.1,341.7 91.5,338.0 91.8,339.6 91.9,337.5 91.9,338.6 92.3,342.2 92.4,339.8 92.6,339.0 92.8,339.5 92.9,339.8 93.4,339.0 93.4,337.2 93.6,337.1 93.9,342.3 94.1,337.6 94.2,340.8 94.5,337.5 94.7,340.8 94.9,339.8 95.2,338.1 95.4,341.9 95.6,336.7 95.8,337.9 96.0,336.7 96.2,336.8 96.2,337.5 96.5,336.4 96.7,337.4 96.9,340.7 97.0,334.8 97.3,335.6 97.6,336.0 97.7,336.9 98.0,339.5 98.2,338.9 98.4,338.4 98.4,337.9 98.7,341.9 99.0,335.3 99.1,335.2 99.5,337.2 99.7,337.6 99.8,336.7 100.1,335.5 100.1,334.6 100.4,336.5 100.7,335.6 100.7,336.1 101.0,334.8 101.2,339.5 101.4,337.7 101.6,340.4 101.8,335.7 102.2,336.8 102.1,336.2 102.3,336.7 102.7,336.1 102.9,336.2 103.1,332.6 103.4,335.9 103.6,337.8 103.6,332.5 103.8,335.7 104.1,337.5 104.1,338.9 104.5,336.1 104.7,337.2 104.9,339.8 105.2,338.9 105.2,335.2 105.4,334.9 105.8,338.2 106.0,336.5 106.0,334.9 106.4,335.5 106.6,336.7 106.6,335.6 106.9,335.4 107.2,335.4 107.4,332.7 107.5,339.7 107.6,338.5 107.8,339.2 108.1,335.6 108.3,336.1 108.5,337.1 108.7,337.6 108.9,331.7 109.2,336.5 109.4,333.5 109.5,335.6 109.8,334.2 110.1,339.5 110.3,336.9 110.3,335.6 110.5,338.8 110.9,335.5 110.9,334.0 111.3,335.2 111.4,334.8 111.8,335.7 111.8,337.6 112.1,335.3 112.1,335.4 112.4,338.0 112.6,336.3 113.0,337.8 113.3,335.9 113.3,332.5 113.6,332.9 113.8,331.6 113.9,338.3 114.3,336.6 114.3,334.4 114.7,333.2 114.6,336.4 115.0,335.2 115.2,336.3 115.4,333.5 115.5,332.8 115.7,339.4 116.1,333.2 116.1,335.5 116.3,338.9 116.6,331.0 117.0,337.3 117.0,335.7 117.1,335.2 117.3,336.3 117.8,332.6 117.8,330.0 118.1,340.4 118.1,334.9 118.4,337.9 118.7,338.5 118.9,336.4 119.1,336.8 119.3,337.5 119.4,339.7 119.7,337.0 119.9,339.0 120.1,334.9 120.2,334.6 120.6,336.0 120.6,336.8 120.9,337.2 121.1,340.9 121.3,338.0 121.6,336.0 121.7,341.1 122.1,336.7 122.0,336.8 122.2,337.2 122.6,335.0 122.8,332.9 123.0,336.3 123.3,335.1 123.5,333.6 123.7,336.3 123.9,335.4 124.1,334.4 124.3,331.1 124.6,335.6 124.7,340.9 124.8,338.5 125.1,339.1 125.4,336.1 125.5,339.1 125.7,334.3 125.9,334.9 126.0,337.6 126.4,332.2 126.5,336.4 126.6,337.1 126.9,341.1 127.3,334.3 127.2,337.5 127.7,334.5 127.7,334.8 127.8,328.6 128.3,333.7 128.3,339.8 128.8,338.0 128.7,336.9 129.0,343.7 129.4,338.2 129.4,332.9 129.7,336.0 130.0,336.5 130.0,341.4 130.2,334.0 130.6,338.0 130.6,339.6 130.9,334.3 131.0,337.0 131.4,330.7 131.5,337.1 131.7,330.1 132.0,335.7 132.1,342.2 132.4,338.2 132.6,337.1 132.9,337.5 133.0,343.7 133.1,338.8 133.4,340.3 133.6,335.7 133.8,335.8 134.0,333.9 134.3,336.6 134.5,335.0 134.7,340.4 134.9,339.3 135.0,336.9 135.3,335.6 135.4,328.0 135.8,335.5 136.0,338.4 136.0,339.6 136.5,327.4 136.6,329.6 136.8,338.1 137.0,334.2 137.2,336.9 137.3,336.0 137.6,339.6 137.9,331.5 138.1,335.8 138.2,340.9 138.6,338.5 138.7,335.0 138.8,339.4 139.1,338.8 139.2,334.8 139.3,340.3 139.7,340.3 140.0,337.5 140.1,341.3 140.2,334.0 140.5,340.7 140.8,337.4 141.0,334.8 141.3,336.1 141.2,342.3 141.6,336.3 141.8,337.0 141.9,335.9 142.3,335.5 142.4,341.8 142.6,346.3 142.9,343.2 143.0,340.2 143.3,341.2 143.5,337.2 143.7,336.7 143.9,334.3 144.0,343.8 144.1,337.3 144.6,336.0 144.8,336.3 144.8,339.4 145.2,336.7 145.4,338.8 145.6,339.4 145.8,343.8 146.1,334.2 146.1,340.0 146.2,336.2 146.6,337.3 146.7,345.1 147.1,341.4 147.3,337.5 147.5,340.9 147.7,339.0 147.7,343.3 148.0,337.2 148.3,341.0 148.4,338.4 148.7,339.2 148.8,338.6 149.2,336.9 149.4,339.7 149.6,343.2 149.8,337.0 149.9,337.8 150.2,340.9 150.4,336.4 150.4,342.9 150.7,342.3 151.1,330.3 151.1,336.9 151.5,335.2 151.6,343.0 151.8,343.5 151.9,334.8 152.4,336.9 152.4,339.4 152.6,338.2 152.8,342.8 153.0,343.9 153.4,342.3 153.5,344.4 153.8,343.8 153.9,339.6 154.3,338.2 154.4,336.9 154.6,343.5 154.9,343.9 155.1,344.5 155.4,338.7 155.5,338.5 155.6,341.3 155.8,345.6 156.1,341.8 156.2,341.2 156.5,336.7 156.6,342.3 156.9,342.7 157.1,336.2 157.2,348.2 157.6,336.4 157.6,344.6 158.0,339.6 158.2,341.3 158.5,337.0 158.6,338.1 158.7,343.8 159.2,339.8 159.2,339.1 159.4,344.8 159.5,344.0 159.9,341.6 160.2,341.9 160.4,348.8 160.5,340.1 160.7,342.7 161.0,342.9 161.3,334.4 161.4,331.9 161.6,341.6 161.9,345.2 161.9,342.0 162.1,338.6 162.5,338.1 162.7,345.1 162.8,339.8 163.1,333.5 163.3,344.6 163.3,342.4 163.7,343.2 164.0,346.4 164.2,347.9 164.4,344.2 164.5,340.6 164.6,331.1 165.1,343.0 165.3,340.8 165.4,348.1 165.6,347.9 165.9,344.0 166.1,348.5 166.2,341.3 166.4,341.5 166.8,337.5 166.9,340.2 166.9,342.9 167.2,347.2 167.4,338.2 167.8,346.0 167.9,353.9 168.2,335.1 168.3,340.7 168.7,342.2 168.8,347.3 169.1,352.5 169.3,348.6 169.4,342.0 169.8,337.8 169.8,341.9 170.1,342.1 170.2,343.6 170.3,337.6 170.6,350.4 170.8,338.6 171.0,346.0 171.2,343.6 171.5,336.6 171.8,342.9 172.0,342.7 172.2,341.6 172.3,347.0 172.6,340.1 172.7,356.5 173.2,348.9 173.2,337.7 173.5,329.1 173.7,349.7 173.8,344.2 174.2,343.4 174.3,337.5 174.6,334.9 174.8,332.6 174.9,357.3 175.2,352.0 175.3,340.0 175.7,353.7 175.8,332.7 176.1,347.2 176.4,347.2 176.4,338.3 176.7,340.7 176.8,337.3 177.1,343.6 177.3,350.9 177.7,349.2 177.8,345.9 178.1,350.0 178.1,333.1 178.3,355.3 178.5,343.3 178.8,335.9 179.0,341.4 179.2,339.8 179.5,344.3 179.7,345.6 180.0,329.9 180.2,351.3 180.2,354.1 180.5,337.7 180.9,352.8 180.9,351.5 181.2,350.1 181.4,353.8 181.7,335.7 181.9,348.5 182.0,338.0 182.2,358.4 182.5,338.4 182.8,336.9 182.9,351.0 183.1,348.1 183.3,344.5 183.7,345.2 183.6,348.1 183.9,354.9 184.1,340.1 184.4,341.1 184.6,341.1 184.7,344.1 185.1,344.7 185.2,336.8 185.4,346.5 185.6,337.0 186.0,342.9 186.2,343.3 186.3,343.4 186.4,354.0 186.7,355.0 187.0,351.6 187.1,354.7 187.5,343.3 187.7,353.8 187.8,344.8 188.0,346.5 188.4,346.9 188.5,337.0 188.6,341.5 189.1,344.4 189.2,347.6 189.4,344.6 189.5,340.1 189.9,338.3 190.1,345.6 190.3,338.2 190.6,338.3 190.7,345.0 191.0,346.8 191.2,340.5 191.2,334.6 191.6,347.6 191.8,351.0 192.0,343.3 192.2,343.6 192.4,331.3 192.7,351.7 192.8,339.1 193.0,350.6 193.2,342.4 193.6,345.3 193.6,345.0 193.7,334.8 194.0,363.6 194.2,336.4 194.5,347.0 194.7,341.2 194.8,344.9 195.1,355.2 195.4,334.7 195.7,345.7 195.8,349.7 196.2,347.4 196.1,349.2 196.6,342.0 196.6,336.3 197.0,338.4 197.1,344.2 197.4,351.7 197.6,347.5 197.9,357.3 197.9,347.7 198.1,348.3 198.5,348.4 198.7,336.0 198.9,350.9 199.1,340.1 199.3,344.9 199.7,362.5 199.6,339.4 200.0,348.2 200.3,349.4 200.3,348.3 200.7,347.6 200.9,344.0 201.0,360.6 201.2,334.7 201.5,341.1 201.8,357.5 202.0,351.5 202.3,342.9 202.3,342.1 202.7,346.4 202.8,365.3 203.0,351.3 203.3,341.4 203.5,349.8 203.6,344.1 203.8,358.1 204.0,350.2 204.4,356.7 204.5,349.5 204.9,361.9 204.9,351.2 205.2,350.4 205.5,341.9 205.7,345.9 206.0,351.3 206.2,345.5 206.3,365.3 206.4,348.8 206.7,343.9 207.0,355.5 207.1,345.5 207.3,351.7 207.5,348.5 207.9,344.4 208.0,358.4 208.3,349.9 208.4,356.6 208.8,347.1 208.9,339.9 209.2,341.2 209.2,346.0 209.6,348.4 209.7,350.0 209.9,353.1 210.1,341.4 210.3,351.3 210.7,341.7 211.0,345.3 211.0,367.2 211.2,358.6 211.4,347.6 211.7,362.2 211.8,359.7 212.1,356.2 212.5,360.2 212.6,348.6 212.8,349.5 213.1,344.6 213.1,354.4 213.6,342.0 213.8,347.2 213.9,353.8 214.1,347.2 214.3,353.1 214.7,363.3 214.9,344.2 215.2,360.5 215.1,346.3 215.4,344.6 215.8,352.6 215.9,358.2 216.1,346.3 216.2,346.2 216.7,348.3 216.7,346.4 217.1,352.7 217.2,346.6 217.5,349.8 217.7,354.1 217.9,348.8 218.1,359.7 218.2,347.1 218.6,346.5 218.7,365.9 218.9,362.3 219.0,352.5 219.3,357.8 219.5,354.5 219.7,348.6 220.0,356.9 220.2,354.4 220.4,361.3 220.6,339.6 221.0,358.1 221.2,353.7 221.4,347.8 221.5,349.7 221.9,349.9 221.9,343.5 222.2,348.8 222.4,358.4 222.8,342.4 222.9,350.4 223.3,336.6 223.4,349.1 223.6,356.0 223.7,352.9 223.9,353.6 224.3,345.6 224.6,357.5 224.8,347.2 225.1,360.1 225.2,355.2 225.4,351.0 225.6,364.3 225.7,351.1 226.2,361.2 226.4,354.8 226.5,354.1 226.6,361.2 226.9,357.3 227.2,354.2 227.4,353.5 227.6,355.9 227.9,355.1 228.1,352.2 228.3,347.2 228.3,336.2 228.7,354.0 228.9,353.1 229.2,363.6 229.2,358.1 229.5,363.2 229.7,367.5 230.0,354.4 230.4,349.2 230.5,361.2 230.8,351.1 231.0,353.6 231.0,365.8 231.4,359.6 231.6,363.6 231.8,346.0 231.9,356.0 232.2,363.9 232.5,346.7 232.6,357.4 232.9,359.0 233.1,339.4 233.2,367.8 233.4,351.1 233.7,355.3 234.0,368.6 234.3,343.6 234.5,360.0 234.6,353.4 235.0,357.1 235.2,350.9 235.4,366.9 235.6,348.8 235.8,359.7 236.0,361.1 236.1,356.5 236.5,355.3 236.5,355.4 236.9,364.9 237.1,360.8 237.3,357.0 237.4,349.6 237.8,358.9 237.9,361.7 238.2,357.6 238.5,368.6 238.5,343.9 239.0,376.6 239.2,356.9 239.3,349.9 239.6,345.5 239.9,364.9 240.0,362.8 240.2,357.0 240.4,358.3 240.6,360.0 241.0,355.7 241.2,367.5 241.5,363.7 241.6,358.2 241.6,346.9 241.9,369.4 242.1,355.7 242.4,351.7 242.7,369.2 242.9,363.3 243.1,344.6 243.3,347.3 243.7,356.9 243.8,350.5 243.9,358.8" fill="none" stroke="none" marker-start="url(#db)" marker-mid="url(#db)" marker-end="url(#db)"/>
<line x1="47.7" y1="258.8" x2="47.7" y2="408.1" stroke="#000" stroke-width="2.8" />
<line x1="46.4" y1="406.8" x2="264.8" y2="406.8" stroke="#000" stroke-width="2.8" />
<line x1="43.4" y1="406.8" x2="47.7" y2="406.8" stroke="#000" stroke-width="2.8" />
<text transform="translate(40.9 409.4) scale(0.93 1)" font-size="10" font-weight="bold" text-anchor="end" fill="#000" >0.0</text>
<line x1="43.4" y1="390.6" x2="47.7" y2="390.6" stroke="#000" stroke-width="2.8" />
<text transform="translate(40.9 393.2) scale(0.93 1)" font-size="10" font-weight="bold" text-anchor="end" fill="#000" >0.5</text>
<line x1="43.4" y1="374.3" x2="47.7" y2="374.3" stroke="#000" stroke-width="2.8" />
<text transform="translate(40.9 376.9) scale(0.93 1)" font-size="10" font-weight="bold" text-anchor="end" fill="#000" >1.0</text>
<line x1="43.4" y1="358.1" x2="47.7" y2="358.1" stroke="#000" stroke-width="2.8" />
<text transform="translate(40.9 360.7) scale(0.93 1)" font-size="10" font-weight="bold" text-anchor="end" fill="#000" >1.5</text>
<line x1="43.4" y1="341.8" x2="47.7" y2="341.8" stroke="#000" stroke-width="2.8" />
<text transform="translate(40.9 344.4) scale(0.93 1)" font-size="10" font-weight="bold" text-anchor="end" fill="#000" >2.0</text>
<line x1="43.4" y1="325.6" x2="47.7" y2="325.6" stroke="#000" stroke-width="2.8" />
<text transform="translate(40.9 328.2) scale(0.93 1)" font-size="10" font-weight="bold" text-anchor="end" fill="#000" >2.5</text>
<line x1="43.4" y1="309.3" x2="47.7" y2="309.3" stroke="#000" stroke-width="2.8" />
<text transform="translate(40.9 311.9) scale(0.93 1)" font-size="10" font-weight="bold" text-anchor="end" fill="#000" >3.0</text>
<line x1="43.4" y1="293.1" x2="47.7" y2="293.1" stroke="#000" stroke-width="2.8" />
<text transform="translate(40.9 295.7) scale(0.93 1)" font-size="10" font-weight="bold" text-anchor="end" fill="#000" >3.5</text>
<line x1="43.4" y1="276.8" x2="47.7" y2="276.8" stroke="#000" stroke-width="2.8" />
<text transform="translate(40.9 279.4) scale(0.93 1)" font-size="10" font-weight="bold" text-anchor="end" fill="#000" >4.0</text>
<line x1="43.4" y1="260.6" x2="47.7" y2="260.6" stroke="#000" stroke-width="2.8" />
<text transform="translate(40.9 263.2) scale(0.93 1)" font-size="10" font-weight="bold" text-anchor="end" fill="#000" >4.5</text>
<line x1="47.6" y1="406.8" x2="47.6" y2="412.2" stroke="#000" stroke-width="2.8" />
<text transform="translate(47.6 423.7) scale(0.93 1)" font-size="10" font-weight="bold" text-anchor="middle" fill="#000" >0</text>
<line x1="101.4" y1="406.8" x2="101.4" y2="412.2" stroke="#000" stroke-width="2.8" />
<text transform="translate(101.4 423.7) scale(0.93 1)" font-size="10" font-weight="bold" text-anchor="middle" fill="#000" >5</text>
<line x1="155.3" y1="406.8" x2="155.3" y2="412.2" stroke="#000" stroke-width="2.8" />
<text transform="translate(155.3 423.7) scale(0.93 1)" font-size="10" font-weight="bold" text-anchor="middle" fill="#000" >10</text>
<line x1="209.1" y1="406.8" x2="209.1" y2="412.2" stroke="#000" stroke-width="2.8" />
<text transform="translate(209.1 423.7) scale(0.93 1)" font-size="10" font-weight="bold" text-anchor="middle" fill="#000" >15</text>
<line x1="263" y1="406.8" x2="263" y2="412.2" stroke="#000" stroke-width="2.8" />
<text transform="translate(263 423.7) scale(0.93 1)" font-size="10" font-weight="bold" text-anchor="middle" fill="#000" >20</text>
<line x1="74.5" y1="406.8" x2="74.5" y2="409.8" stroke="#000" stroke-width="2.8" />
<line x1="128.4" y1="406.8" x2="128.4" y2="409.8" stroke="#000" stroke-width="2.8" />
<line x1="182.2" y1="406.8" x2="182.2" y2="409.8" stroke="#000" stroke-width="2.8" />
<line x1="236.1" y1="406.8" x2="236.1" y2="409.8" stroke="#000" stroke-width="2.8" />
<text x="155.2" y="440.8" font-size="10.3" font-weight="normal" text-anchor="middle" fill="#000" >q*R<tspan dy="2.5" font-size="7.5">g</tspan></text>
<text transform="translate(21.9 333.3) rotate(-90)" font-size="9.8" text-anchor="middle" fill="#000">I(q)*(q*R<tspan dy="2.5" font-size="7.5">g</tspan><tspan dy="-2.5">)</tspan><tspan dy="-3.5" font-size="7.5">2</tspan><tspan dy="3.5">/I</tspan><tspan dy="2.5" font-size="7.5">0</tspan></text>
<line x1="310.2" y1="355" x2="506.4" y2="355" stroke="#000" stroke-width="2.8" />
<polyline points="323.6,314.9 326.0,314.1 328.4,314.9 330.9,316.6 333.3,318.9 335.7,323.5 338.1,328.9 340.5,335.8 343.0,342.5 345.4,348.6 347.8,354.8 350.2,359.5 352.6,364.0 355.1,367.6 357.5,370.3 359.9,372.6 362.3,374.3 364.7,375.0 367.2,374.7 369.6,374.3 372.0,373.8 374.4,373.3 376.8,373.0 379.3,373.1 381.7,373.2 384.1,373.4 386.5,373.6 388.9,373.9 391.4,374.2 393.8,374.6 396.2,374.7 398.6,374.6 401.0,374.4 403.5,374.0 405.9,373.6 408.3,372.9 410.7,372.0 413.1,371.2 415.6,370.3 418.0,368.8 420.4,367.0 422.8,365.2 425.2,363.5 427.7,361.9 430.1,360.5 432.5,359.3 434.9,358.2 437.3,357.3 439.8,356.5 442.2,356.0 444.6,355.6 447.0,355.4 449.4,355.3 451.9,355.2 454.3,355.1 456.7,355.0 459.1,355.0 461.5,355.0 464.0,355.0 466.4,355.0 468.8,355.0" fill="none" stroke="none" marker-start="url(#ek)" marker-mid="url(#ek)" marker-end="url(#ek)"/>
<path d="M323.6 260.1V275.1M322.3 260.1h2.6M322.3 275.1h2.6M326.0 260.6V274.6M324.7 260.6h2.6M324.7 274.6h2.6M328.4 262.0V275.0M327.1 262.0h2.6M327.1 275.0h2.6M330.9 267.5V278.5M329.6 267.5h2.6M329.6 278.5h2.6M333.3 274.4V283.4M332.0 274.4h2.6M332.0 283.4h2.6M335.7 284.4V291.9M334.4 284.4h2.6M334.4 291.9h2.6M338.1 297.6V303.6M336.8 297.6h2.6M336.8 303.6h2.6M340.5 311.1V316.1M339.2 311.1h2.6M339.2 316.1h2.6" stroke="#f25555" stroke-width="0.5" fill="none"/>
<polyline points="323.6,267.6 326.0,267.6 328.4,268.5 330.9,273.0 333.3,278.9 335.7,288.2 338.1,300.6 340.5,313.6 343.0,327.7 345.4,340.8 347.8,352.6 350.2,362.6 352.6,371.6 355.1,379.7 357.5,385.1 359.9,390.1 362.3,393.8 364.7,395.2 367.2,395.0 369.6,393.9 372.0,392.5 374.4,391.3 376.8,390.5 379.3,390.2 381.7,390.1 384.1,390.5 386.5,391.1 388.9,391.4 391.4,391.6 393.8,391.7 396.2,391.8 398.6,390.8 401.0,389.1 403.5,387.6 405.9,386.0 408.3,384.6 410.7,383.1 413.1,381.1 415.6,379.0 418.0,377.1 420.4,375.0 422.8,372.3 425.2,369.5 427.7,367.2 430.1,365.0 432.5,362.9 434.9,361.0 437.3,359.6 439.8,358.5 442.2,357.6 444.6,357.0 447.0,356.6 449.4,356.3 451.9,356.0 454.3,355.8 456.7,355.6 459.1,355.5 461.5,355.4 464.0,355.3 466.4,355.2 468.8,355.2 471.2,355.2 473.6,355.2 476.1,355.2 478.5,355.2 480.9,355.2 483.3,355.2 485.7,355.2 488.2,355.2 490.6,355.2 493.0,355.2" fill="none" stroke="none" marker-start="url(#er)" marker-mid="url(#er)" marker-end="url(#er)"/>
<line x1="311.5" y1="249.8" x2="311.5" y2="408.3" stroke="#000" stroke-width="2.8" />
<line x1="310.2" y1="406.8" x2="506.4" y2="406.8" stroke="#000" stroke-width="2.8" />
<line x1="307.3" y1="251.9" x2="311.5" y2="251.9" stroke="#000" stroke-width="2.8" />
<text transform="translate(305.3 254.5) scale(0.93 1)" font-size="10" font-weight="bold" text-anchor="end" fill="#000" >40</text>
<line x1="307.3" y1="303.4" x2="311.5" y2="303.4" stroke="#000" stroke-width="2.8" />
<text transform="translate(305.3 306.1) scale(0.93 1)" font-size="10" font-weight="bold" text-anchor="end" fill="#000" >20</text>
<line x1="307.3" y1="355" x2="311.5" y2="355" stroke="#000" stroke-width="2.8" />
<text transform="translate(305.3 357.6) scale(0.93 1)" font-size="10" font-weight="bold" text-anchor="end" fill="#000" >0</text>
<line x1="307.3" y1="406.6" x2="311.5" y2="406.6" stroke="#000" stroke-width="2.8" />
<text transform="translate(305.3 409.2) scale(0.93 1)" font-size="10" font-weight="bold" text-anchor="end" fill="#000" >-20</text>
<line x1="323.6" y1="406.8" x2="323.6" y2="412.4" stroke="#000" stroke-width="2.8" />
<text transform="translate(323.6 424) scale(0.93 1)" font-size="10" font-weight="bold" text-anchor="middle" fill="#000" >190</text>
<line x1="347.8" y1="406.8" x2="347.8" y2="412.4" stroke="#000" stroke-width="2.8" />
<text transform="translate(347.8 424) scale(0.93 1)" font-size="10" font-weight="bold" text-anchor="middle" fill="#000" >200</text>
<line x1="372" y1="406.8" x2="372" y2="412.4" stroke="#000" stroke-width="2.8" />
<text transform="translate(372 424) scale(0.93 1)" font-size="10" font-weight="bold" text-anchor="middle" fill="#000" >210</text>
<line x1="396.2" y1="406.8" x2="396.2" y2="412.4" stroke="#000" stroke-width="2.8" />
<text transform="translate(396.2 424) scale(0.93 1)" font-size="10" font-weight="bold" text-anchor="middle" fill="#000" >220</text>
<line x1="420.4" y1="406.8" x2="420.4" y2="412.4" stroke="#000" stroke-width="2.8" />
<text transform="translate(420.4 424) scale(0.93 1)" font-size="10" font-weight="bold" text-anchor="middle" fill="#000" >230</text>
<line x1="444.6" y1="406.8" x2="444.6" y2="412.4" stroke="#000" stroke-width="2.8" />
<text transform="translate(444.6 424) scale(0.93 1)" font-size="10" font-weight="bold" text-anchor="middle" fill="#000" >240</text>
<line x1="468.8" y1="406.8" x2="468.8" y2="412.4" stroke="#000" stroke-width="2.8" />
<text transform="translate(468.8 424) scale(0.93 1)" font-size="10" font-weight="bold" text-anchor="middle" fill="#000" >250</text>
<line x1="493" y1="406.8" x2="493" y2="412.4" stroke="#000" stroke-width="2.8" />
<text transform="translate(493 424) scale(0.93 1)" font-size="10" font-weight="bold" text-anchor="middle" fill="#000" >260</text>
<line x1="311.5" y1="406.8" x2="311.5" y2="409.8" stroke="#000" stroke-width="2.8" />
<line x1="335.7" y1="406.8" x2="335.7" y2="409.8" stroke="#000" stroke-width="2.8" />
<line x1="359.9" y1="406.8" x2="359.9" y2="409.8" stroke="#000" stroke-width="2.8" />
<line x1="384.1" y1="406.8" x2="384.1" y2="409.8" stroke="#000" stroke-width="2.8" />
<line x1="408.3" y1="406.8" x2="408.3" y2="409.8" stroke="#000" stroke-width="2.8" />
<line x1="432.5" y1="406.8" x2="432.5" y2="409.8" stroke="#000" stroke-width="2.8" />
<line x1="456.7" y1="406.8" x2="456.7" y2="409.8" stroke="#000" stroke-width="2.8" />
<line x1="480.9" y1="406.8" x2="480.9" y2="409.8" stroke="#000" stroke-width="2.8" />
<line x1="505.1" y1="406.8" x2="505.1" y2="409.8" stroke="#000" stroke-width="2.8" />
<text x="405.7" y="441.5" font-size="10.3" font-weight="normal" text-anchor="middle" fill="#000" >Wavelength [nm]</text>
<text transform="translate(288.2 329.3) rotate(-90)" font-size="10.3" text-anchor="middle" fill="#000"><tspan font-family="Liberation Serif">Δε</tspan> [L*mol<tspan dy="-4.3" font-size="7">-1</tspan><tspan dy="4.3">*cm</tspan><tspan dy="-4.3" font-size="7">-1</tspan><tspan dy="4.3">]</tspan></text>
<line x1="558" y1="355" x2="754.2" y2="355" stroke="#000" stroke-width="2.8" />
<path d="M571.4 285.0V293.0M569.8 285.0h3.2M569.8 293.0h3.2M573.8 280.6V288.6M572.2 280.6h3.2M572.2 288.6h3.2M576.2 278.1V286.1M574.6 278.1h3.2M574.6 286.1h3.2M578.7 277.6V285.6M577.1 277.6h3.2M577.1 285.6h3.2M581.1 280.9V288.3M579.5 280.9h3.2M579.5 288.3h3.2M583.5 285.7V292.3M581.9 285.7h3.2M581.9 292.3h3.2M585.9 292.0V298.0M584.3 292.0h3.2M584.3 298.0h3.2M588.3 297.9V303.4M586.7 297.9h3.2M586.7 303.4h3.2M590.8 308.0V313.0M589.2 308.0h3.2M589.2 313.0h3.2M593.2 319.4V323.9M591.6 319.4h3.2M591.6 323.9h3.2M595.6 330.7V334.7M594.0 330.7h3.2M594.0 334.7h3.2M598.0 339.5V343.3M596.4 339.5h3.2M596.4 343.3h3.2M600.4 347.0V350.6M598.8 347.0h3.2M598.8 350.6h3.2M602.9 353.9V357.3M601.3 353.9h3.2M601.3 357.3h3.2M605.3 360.7V363.9M603.7 360.7h3.2M603.7 363.9h3.2M607.7 365.8V368.8M606.1 365.8h3.2M606.1 368.8h3.2M610.1 368.8V371.8M608.5 368.8h3.2M608.5 371.8h3.2M612.5 372.0V375.0M610.9 372.0h3.2M610.9 375.0h3.2M615.0 375.0V378.0M613.4 375.0h3.2M613.4 378.0h3.2M617.4 376.4V379.4M615.8 376.4h3.2M615.8 379.4h3.2M619.8 377.1V380.1M618.2 377.1h3.2M618.2 380.1h3.2M622.2 377.3V380.3M620.6 377.3h3.2M620.6 380.3h3.2M624.6 377.5V380.5M623.0 377.5h3.2M623.0 380.5h3.2M627.1 377.9V380.8M625.5 377.9h3.2M625.5 380.8h3.2M629.5 378.4V381.2M627.9 378.4h3.2M627.9 381.2h3.2M631.9 378.9V381.7M630.3 378.9h3.2M630.3 381.7h3.2M634.3 379.4V382.2M632.7 379.4h3.2M632.7 382.2h3.2M636.7 379.9V382.7M635.1 379.9h3.2M635.1 382.7h3.2M639.2 380.4V383.2M637.6 380.4h3.2M637.6 383.2h3.2M641.6 380.9V383.6M640.0 380.9h3.2M640.0 383.6h3.2M644.0 381.3V384.1M642.4 381.3h3.2M642.4 384.1h3.2M646.4 381.8V384.4M644.8 381.8h3.2M644.8 384.4h3.2M648.8 382.0V384.6M647.2 382.0h3.2M647.2 384.6h3.2M651.3 381.7V384.4M649.7 381.7h3.2M649.7 384.4h3.2M653.7 381.2V383.8M652.1 381.2h3.2M652.1 383.8h3.2M656.1 380.2V382.8M654.5 380.2h3.2M654.5 382.8h3.2M658.5 378.7V381.3M656.9 378.7h3.2M656.9 381.3h3.2M660.9 376.9V379.4M659.3 376.9h3.2M659.3 379.4h3.2M663.4 374.8V377.2M661.8 374.8h3.2M661.8 377.2h3.2M665.8 372.4V374.8M664.2 372.4h3.2M664.2 374.8h3.2M668.2 369.8V372.2M666.6 369.8h3.2M666.6 372.2h3.2M670.6 367.3V369.6M669.0 367.3h3.2M669.0 369.6h3.2M673.0 364.9V367.1M671.4 364.9h3.2M671.4 367.1h3.2M675.5 362.8V364.8M673.9 362.8h3.2M673.9 364.8h3.2M677.9 361.1V362.9M676.3 361.1h3.2M676.3 362.9h3.2M680.3 359.8V361.5M678.7 359.8h3.2M678.7 361.5h3.2M682.7 358.7V360.3M681.1 358.7h3.2M681.1 360.3h3.2M685.1 357.8V359.2M683.5 357.8h3.2M683.5 359.2h3.2M687.6 357.2V358.4M686.0 357.2h3.2M686.0 358.4h3.2" stroke="#3a3a3a" stroke-width="0.5" fill="none"/>
<polyline points="571.4,289.0 573.8,284.6 576.2,282.1 578.7,281.6 581.1,284.6 583.5,289.0 585.9,295.0 588.3,300.6 590.8,310.5 593.2,321.6 595.6,332.7 598.0,341.4 600.4,348.8 602.9,355.6 605.3,362.3 607.7,367.3 610.1,370.3 612.5,373.5 615.0,376.5 617.4,377.9 619.8,378.6 622.2,378.8 624.6,379.0 627.1,379.4 629.5,379.8 631.9,380.3 634.3,380.8 636.7,381.3 639.2,381.8 641.6,382.3 644.0,382.7 646.4,383.1 648.8,383.3 651.3,383.1 653.7,382.5 656.1,381.5 658.5,380.0 660.9,378.2 663.4,376.0 665.8,373.6 668.2,371.0 670.6,368.4 673.0,366.0 675.5,363.8 677.9,362.0 680.3,360.6 682.7,359.5 685.1,358.5 687.6,357.8 690.0,357.3 692.4,357.0 694.8,356.8 697.2,356.6 699.7,356.5 702.1,356.4 704.5,356.3 706.9,356.3 709.3,356.3 711.8,356.3 714.2,356.3 716.6,356.3 719.0,356.3 721.4,356.3 723.9,356.3 726.3,356.3 728.7,356.3 731.1,356.3 733.5,356.3 736.0,356.3 738.4,356.3 740.8,356.3" fill="none" stroke="none" marker-start="url(#fk)" marker-mid="url(#fk)" marker-end="url(#fk)"/>
<path d="M571.4 255.1V285.1M569.8 255.1h3.2M569.8 285.1h3.2M573.8 253.1V283.1M572.2 253.1h3.2M572.2 283.1h3.2M576.2 254.6V284.6M574.6 254.6h3.2M574.6 284.6h3.2M578.7 259.5V287.5M577.1 259.5h3.2M577.1 287.5h3.2M581.1 268.0V294.0M579.5 268.0h3.2M579.5 294.0h3.2M583.5 276.5V300.5M581.9 276.5h3.2M581.9 300.5h3.2M585.9 284.7V306.7M584.3 284.7h3.2M584.3 306.7h3.2M588.3 299.3V319.3M586.7 299.3h3.2M586.7 319.3h3.2M590.8 313.8V331.8M589.2 313.8h3.2M589.2 331.8h3.2M593.2 330.9V342.9M591.6 330.9h3.2M591.6 342.9h3.2M595.6 348.0V352.0M594.0 348.0h3.2M594.0 352.0h3.2M612.5 388.0V396.0M610.9 388.0h3.2M610.9 396.0h3.2M615.0 387.2V397.8M613.4 387.2h3.2M613.4 397.8h3.2M617.4 385.6V398.6M615.8 385.6h3.2M615.8 398.6h3.2M619.8 384.9V398.1M618.2 384.9h3.2M618.2 398.1h3.2M622.2 384.0V397.2M620.6 384.0h3.2M620.6 397.2h3.2M624.6 383.3V396.7M623.0 383.3h3.2M623.0 396.7h3.2M627.1 383.3V396.8M625.5 383.3h3.2M625.5 396.8h3.2M629.5 383.4V397.0M627.9 383.4h3.2M627.9 397.0h3.2M631.9 383.7V397.4M630.3 383.7h3.2M630.3 397.4h3.2M634.3 384.1V397.9M632.7 384.1h3.2M632.7 397.9h3.2M636.7 384.4V398.3M635.1 384.4h3.2M635.1 398.3h3.2M639.2 384.5V398.5M637.6 384.5h3.2M637.6 398.5h3.2M641.6 384.7V398.3M640.0 384.7h3.2M640.0 398.3h3.2M644.0 384.8V398.2M642.4 384.8h3.2M642.4 398.2h3.2M646.4 384.7V397.7M644.8 384.7h3.2M644.8 397.7h3.2M648.8 384.2V396.8M647.2 384.2h3.2M647.2 396.8h3.2M651.3 383.2V395.6M649.7 383.2h3.2M649.7 395.6h3.2M653.7 382.0V394.0M652.1 382.0h3.2M652.1 394.0h3.2M656.1 381.1V392.1M654.5 381.1h3.2M654.5 392.1h3.2M658.5 380.0V390.0M656.9 380.0h3.2M656.9 390.0h3.2M660.9 378.4V387.4M659.3 378.4h3.2M659.3 387.4h3.2M663.4 376.5V384.5M661.8 376.5h3.2M661.8 384.5h3.2M665.8 374.2V381.5M664.2 374.2h3.2M664.2 381.5h3.2M668.2 371.8V378.2M666.6 371.8h3.2M666.6 378.2h3.2M670.6 369.1V374.8M669.0 369.1h3.2M669.0 374.8h3.2M673.0 366.5V371.5M671.4 366.5h3.2M671.4 371.5h3.2M675.5 364.1V368.6M673.9 364.1h3.2M673.9 368.6h3.2M677.9 362.0V366.0M676.3 362.0h3.2M676.3 366.0h3.2M680.3 360.1V363.6M678.7 360.1h3.2M678.7 363.6h3.2M682.7 358.5V361.5M681.1 358.5h3.2M681.1 361.5h3.2M685.1 357.1V359.6M683.5 357.1h3.2M683.5 359.6h3.2M687.6 356.0V358.0M686.0 356.0h3.2M686.0 358.0h3.2M690.0 355.3V356.8M688.4 355.3h3.2M688.4 356.8h3.2" stroke="#f25555" stroke-width="0.5" fill="none"/>
<polyline points="571.4,270.1 573.8,268.1 576.2,269.6 578.7,273.5 581.1,281.0 583.5,288.5 585.9,295.7 588.3,309.3 590.8,322.8 593.2,336.9 595.6,350.0 598.0,359.2 600.4,367.3 602.9,375.9 605.3,382.1 607.7,386.7 610.1,390.1 612.5,392.0 615.0,392.5 617.4,392.1 619.8,391.5 622.2,390.6 624.6,390.0 627.1,390.1 629.5,390.2 631.9,390.6 634.3,391.0 636.7,391.3 639.2,391.5 641.6,391.5 644.0,391.5 646.4,391.2 648.8,390.5 651.3,389.4 653.7,388.0 656.1,386.6 658.5,385.0 660.9,382.9 663.4,380.5 665.8,377.8 668.2,375.0 670.6,372.0 673.0,369.0 675.5,366.4 677.9,364.0 680.3,361.9 682.7,360.0 685.1,358.3 687.6,357.0 690.0,356.0 692.4,355.3 694.8,354.8 697.2,354.4 699.7,354.2 702.1,354.1 704.5,353.9 706.9,353.9 709.3,353.9 711.8,353.9 714.2,353.9 716.6,353.9 719.0,353.9 721.4,353.9 723.9,353.9 726.3,353.9 728.7,353.9 731.1,353.9 733.5,353.9 736.0,353.9 738.4,353.9 740.8,353.9" fill="none" stroke="none" marker-start="url(#fr)" marker-mid="url(#fr)" marker-end="url(#fr)"/>
<line x1="559.3" y1="249.8" x2="559.3" y2="408.3" stroke="#000" stroke-width="2.8" />
<line x1="558" y1="406.8" x2="754.2" y2="406.8" stroke="#000" stroke-width="2.8" />
<line x1="555.1" y1="251.9" x2="559.3" y2="251.9" stroke="#000" stroke-width="2.8" />
<text transform="translate(553.1 254.5) scale(0.93 1)" font-size="10" font-weight="bold" text-anchor="end" fill="#000" >40</text>
<line x1="555.1" y1="303.4" x2="559.3" y2="303.4" stroke="#000" stroke-width="2.8" />
<text transform="translate(553.1 306.1) scale(0.93 1)" font-size="10" font-weight="bold" text-anchor="end" fill="#000" >20</text>
<line x1="555.1" y1="355" x2="559.3" y2="355" stroke="#000" stroke-width="2.8" />
<text transform="translate(553.1 357.6) scale(0.93 1)" font-size="10" font-weight="bold" text-anchor="end" fill="#000" >0</text>
<line x1="555.1" y1="406.6" x2="559.3" y2="406.6" stroke="#000" stroke-width="2.8" />
<text transform="translate(553.1 409.2) scale(0.93 1)" font-size="10" font-weight="bold" text-anchor="end" fill="#000" >-20</text>
<line x1="571.4" y1="406.8" x2="571.4" y2="412.4" stroke="#000" stroke-width="2.8" />
<text transform="translate(571.4 424) scale(0.93 1)" font-size="10" font-weight="bold" text-anchor="middle" fill="#000" >190</text>
<line x1="595.6" y1="406.8" x2="595.6" y2="412.4" stroke="#000" stroke-width="2.8" />
<text transform="translate(595.6 424) scale(0.93 1)" font-size="10" font-weight="bold" text-anchor="middle" fill="#000" >200</text>
<line x1="619.8" y1="406.8" x2="619.8" y2="412.4" stroke="#000" stroke-width="2.8" />
<text transform="translate(619.8 424) scale(0.93 1)" font-size="10" font-weight="bold" text-anchor="middle" fill="#000" >210</text>
<line x1="644" y1="406.8" x2="644" y2="412.4" stroke="#000" stroke-width="2.8" />
<text transform="translate(644 424) scale(0.93 1)" font-size="10" font-weight="bold" text-anchor="middle" fill="#000" >220</text>
<line x1="668.2" y1="406.8" x2="668.2" y2="412.4" stroke="#000" stroke-width="2.8" />
<text transform="translate(668.2 424) scale(0.93 1)" font-size="10" font-weight="bold" text-anchor="middle" fill="#000" >230</text>
<line x1="692.4" y1="406.8" x2="692.4" y2="412.4" stroke="#000" stroke-width="2.8" />
<text transform="translate(692.4 424) scale(0.93 1)" font-size="10" font-weight="bold" text-anchor="middle" fill="#000" >240</text>
<line x1="716.6" y1="406.8" x2="716.6" y2="412.4" stroke="#000" stroke-width="2.8" />
<text transform="translate(716.6 424) scale(0.93 1)" font-size="10" font-weight="bold" text-anchor="middle" fill="#000" >250</text>
<line x1="740.8" y1="406.8" x2="740.8" y2="412.4" stroke="#000" stroke-width="2.8" />
<text transform="translate(740.8 424) scale(0.93 1)" font-size="10" font-weight="bold" text-anchor="middle" fill="#000" >260</text>
<line x1="559.3" y1="406.8" x2="559.3" y2="409.8" stroke="#000" stroke-width="2.8" />
<line x1="583.5" y1="406.8" x2="583.5" y2="409.8" stroke="#000" stroke-width="2.8" />
<line x1="607.7" y1="406.8" x2="607.7" y2="409.8" stroke="#000" stroke-width="2.8" />
<line x1="631.9" y1="406.8" x2="631.9" y2="409.8" stroke="#000" stroke-width="2.8" />
<line x1="656.1" y1="406.8" x2="656.1" y2="409.8" stroke="#000" stroke-width="2.8" />
<line x1="680.3" y1="406.8" x2="680.3" y2="409.8" stroke="#000" stroke-width="2.8" />
<line x1="704.5" y1="406.8" x2="704.5" y2="409.8" stroke="#000" stroke-width="2.8" />
<line x1="728.7" y1="406.8" x2="728.7" y2="409.8" stroke="#000" stroke-width="2.8" />
<line x1="752.9" y1="406.8" x2="752.9" y2="409.8" stroke="#000" stroke-width="2.8" />
<text x="655.5" y="441.5" font-size="10.3" font-weight="normal" text-anchor="middle" fill="#000" >Wavelength [nm]</text>
<text transform="translate(535.3 329.4) rotate(-90)" font-size="10.3" text-anchor="middle" fill="#000"><tspan font-family="Liberation Serif">Δε</tspan> [L*mol<tspan dy="-4.3" font-size="7">-1</tspan><tspan dy="4.3">*cm</tspan><tspan dy="-4.3" font-size="7">-1</tspan><tspan dy="4.3">]</tspan></text>
</svg></body></html>
